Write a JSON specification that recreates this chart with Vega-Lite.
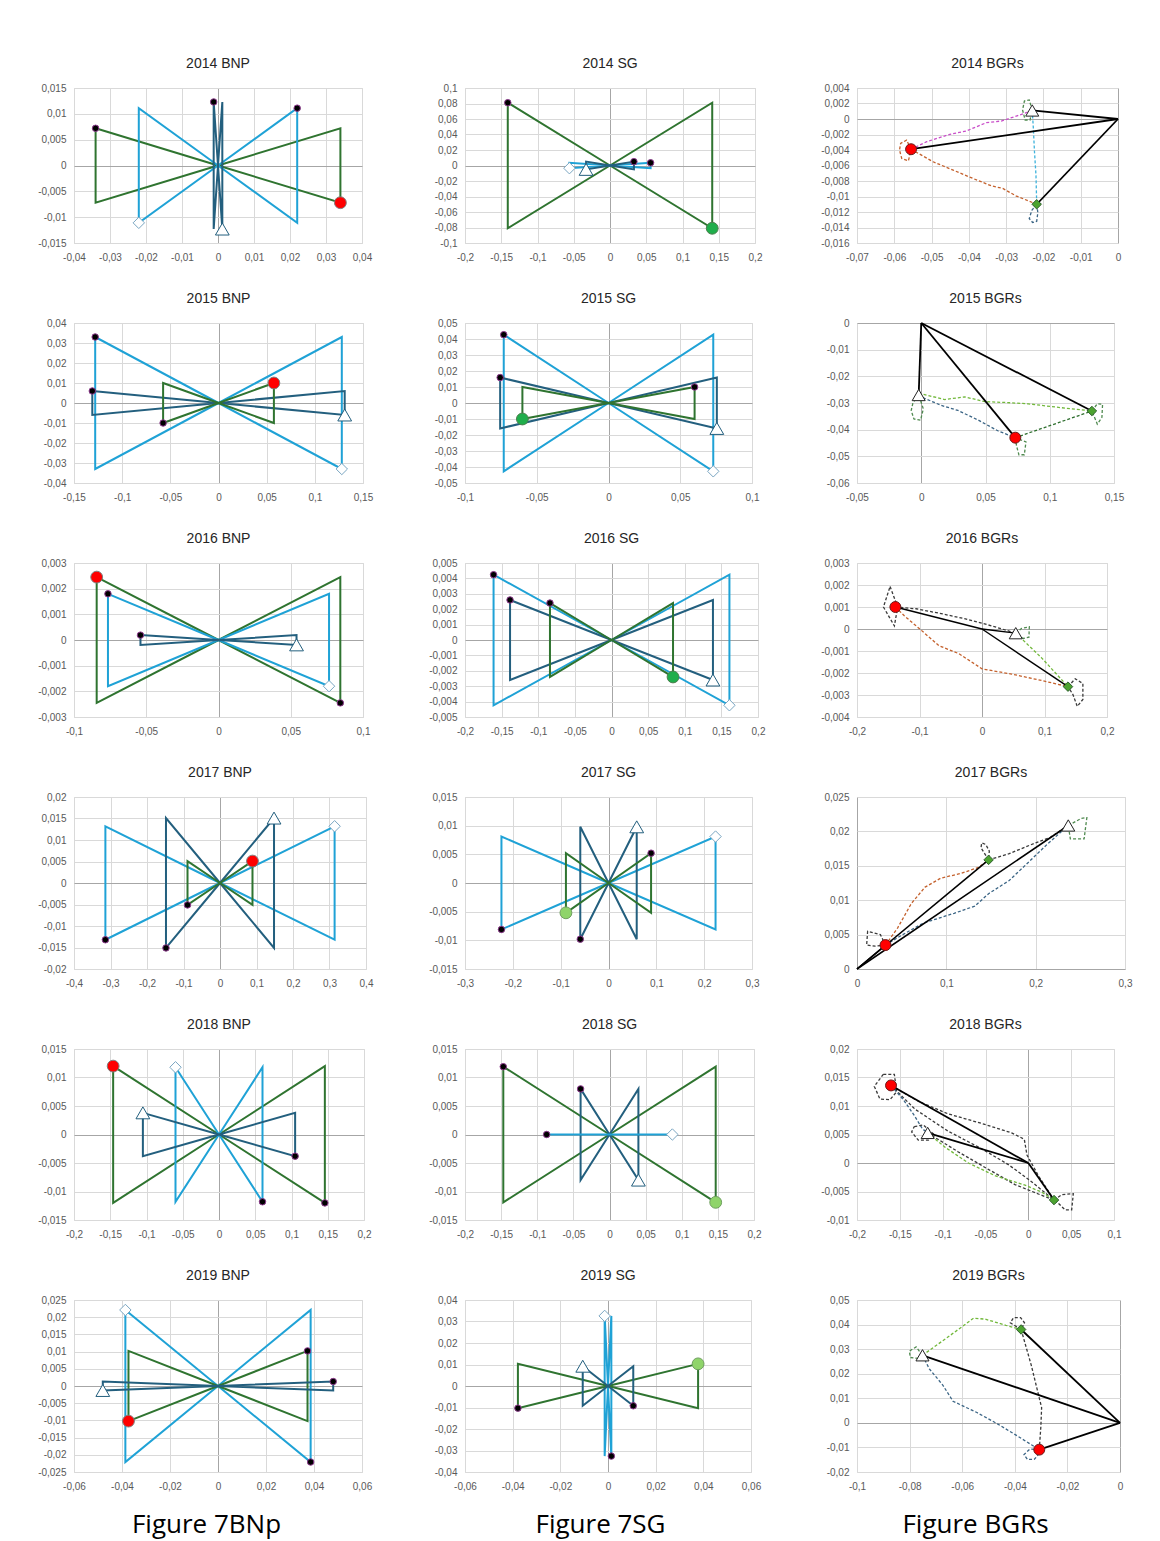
{
"$schema":"https://vega.github.io/schema/vega-lite/v6.json",
"background":"white",
"padding":{"left":37,"top":56,"right":10,"bottom":10},
"config":{
"locale":{"number":{"decimal":",","thousands":".","grouping":[3],"currency":["",""],"minus":"-"}},
"view":{"stroke":"#d9d9d9"},
"axis":{"domain":false,"ticks":false,"labelFont":"Liberation Sans","labelFontSize":10,"labelColor":"#595959","labelFlush":false,"labelOverlap":false,"labelBound":false,"format":".4~f","gridWidth":1},
"axisX":{"labelPadding":9},
"axisY":{"labelPadding":8},
"title":{"font":"Liberation Sans","fontSize":14,"fontWeight":"normal","color":"#262626","offset":12,"anchor":"middle"}
},
"datasets":{
"bow":[
{"p":"b14","c":"g","o":1,"x":-0.034,"y":0.0072},{"p":"b14","c":"g","o":2,"x":0,"y":0},{"p":"b14","c":"g","o":3,"x":0.034,"y":-0.0072},{"p":"b14","c":"g","o":4,"x":0.034,"y":0.0072},{"p":"b14","c":"g","o":5,"x":0,"y":0},{"p":"b14","c":"g","o":6,"x":-0.034,"y":-0.0072},{"p":"b14","c":"g","o":7,"x":-0.034,"y":0.0072},
{"p":"b14","c":"lb","o":1,"x":0.022,"y":0.0111},{"p":"b14","c":"lb","o":2,"x":0,"y":0},{"p":"b14","c":"lb","o":3,"x":-0.022,"y":-0.0111},{"p":"b14","c":"lb","o":4,"x":-0.022,"y":0.0111},{"p":"b14","c":"lb","o":5,"x":0,"y":0},{"p":"b14","c":"lb","o":6,"x":0.022,"y":-0.0111},{"p":"b14","c":"lb","o":7,"x":0.022,"y":0.0111},
{"p":"b14","c":"db","o":1,"x":-0.0012,"y":0.0123},{"p":"b14","c":"db","o":2,"x":0,"y":0},{"p":"b14","c":"db","o":3,"x":0.0012,"y":-0.0123},{"p":"b14","c":"db","o":4,"x":0.0012,"y":0.0123},{"p":"b14","c":"db","o":5,"x":0,"y":0},{"p":"b14","c":"db","o":6,"x":-0.0012,"y":-0.0123},{"p":"b14","c":"db","o":7,"x":-0.0012,"y":0.0123},
{"p":"s14","c":"g","o":1,"x":-0.141,"y":0.081},{"p":"s14","c":"g","o":2,"x":0,"y":0},{"p":"s14","c":"g","o":3,"x":0.141,"y":-0.081},{"p":"s14","c":"g","o":4,"x":0.141,"y":0.081},{"p":"s14","c":"g","o":5,"x":0,"y":0},{"p":"s14","c":"g","o":6,"x":-0.141,"y":-0.081},{"p":"s14","c":"g","o":7,"x":-0.141,"y":0.081},
{"p":"s14","c":"lb","o":1,"x":0.056,"y":0.0035},{"p":"s14","c":"lb","o":2,"x":0,"y":0},{"p":"s14","c":"lb","o":3,"x":-0.056,"y":-0.0035},{"p":"s14","c":"lb","o":4,"x":-0.056,"y":0.0035},{"p":"s14","c":"lb","o":5,"x":0,"y":0},{"p":"s14","c":"lb","o":6,"x":0.056,"y":-0.0035},{"p":"s14","c":"lb","o":7,"x":0.056,"y":0.0035},
{"p":"s14","c":"db","o":1,"x":0.033,"y":0.005},{"p":"s14","c":"db","o":2,"x":0,"y":0},{"p":"s14","c":"db","o":3,"x":-0.033,"y":-0.005},{"p":"s14","c":"db","o":4,"x":-0.033,"y":0.005},{"p":"s14","c":"db","o":5,"x":0,"y":0},{"p":"s14","c":"db","o":6,"x":0.033,"y":-0.005},{"p":"s14","c":"db","o":7,"x":0.033,"y":0.005},
{"p":"b15","c":"lb","o":1,"x":-0.128,"y":0.033},{"p":"b15","c":"lb","o":2,"x":0,"y":0},{"p":"b15","c":"lb","o":3,"x":0.128,"y":-0.033},{"p":"b15","c":"lb","o":4,"x":0.128,"y":0.033},{"p":"b15","c":"lb","o":5,"x":0,"y":0},{"p":"b15","c":"lb","o":6,"x":-0.128,"y":-0.033},{"p":"b15","c":"lb","o":7,"x":-0.128,"y":0.033},
{"p":"b15","c":"db","o":1,"x":-0.131,"y":0.006},{"p":"b15","c":"db","o":2,"x":0,"y":0},{"p":"b15","c":"db","o":3,"x":0.131,"y":-0.006},{"p":"b15","c":"db","o":4,"x":0.131,"y":0.006},{"p":"b15","c":"db","o":5,"x":0,"y":0},{"p":"b15","c":"db","o":6,"x":-0.131,"y":-0.006},{"p":"b15","c":"db","o":7,"x":-0.131,"y":0.006},
{"p":"b15","c":"g","o":1,"x":0.0575,"y":0.01},{"p":"b15","c":"g","o":2,"x":0,"y":0},{"p":"b15","c":"g","o":3,"x":-0.0575,"y":-0.01},{"p":"b15","c":"g","o":4,"x":-0.0575,"y":0.01},{"p":"b15","c":"g","o":5,"x":0,"y":0},{"p":"b15","c":"g","o":6,"x":0.0575,"y":-0.01},{"p":"b15","c":"g","o":7,"x":0.0575,"y":0.01},
{"p":"s15","c":"lb","o":1,"x":-0.073,"y":0.0427},{"p":"s15","c":"lb","o":2,"x":0,"y":0},{"p":"s15","c":"lb","o":3,"x":0.073,"y":-0.0427},{"p":"s15","c":"lb","o":4,"x":0.073,"y":0.0427},{"p":"s15","c":"lb","o":5,"x":0,"y":0},{"p":"s15","c":"lb","o":6,"x":-0.073,"y":-0.0427},{"p":"s15","c":"lb","o":7,"x":-0.073,"y":0.0427},
{"p":"s15","c":"db","o":1,"x":-0.0755,"y":0.0159},{"p":"s15","c":"db","o":2,"x":0,"y":0},{"p":"s15","c":"db","o":3,"x":0.0755,"y":-0.0159},{"p":"s15","c":"db","o":4,"x":0.0755,"y":0.0159},{"p":"s15","c":"db","o":5,"x":0,"y":0},{"p":"s15","c":"db","o":6,"x":-0.0755,"y":-0.0159},{"p":"s15","c":"db","o":7,"x":-0.0755,"y":0.0159},
{"p":"s15","c":"g","o":1,"x":-0.06,"y":-0.01},{"p":"s15","c":"g","o":2,"x":0,"y":0},{"p":"s15","c":"g","o":3,"x":0.06,"y":0.01},{"p":"s15","c":"g","o":4,"x":0.06,"y":-0.01},{"p":"s15","c":"g","o":5,"x":0,"y":0},{"p":"s15","c":"g","o":6,"x":-0.06,"y":0.01},{"p":"s15","c":"g","o":7,"x":-0.06,"y":-0.01},
{"p":"b16","c":"g","o":1,"x":-0.0843,"y":0.00245},{"p":"b16","c":"g","o":2,"x":0,"y":0},{"p":"b16","c":"g","o":3,"x":0.0843,"y":-0.00245},{"p":"b16","c":"g","o":4,"x":0.0843,"y":0.00245},{"p":"b16","c":"g","o":5,"x":0,"y":0},{"p":"b16","c":"g","o":6,"x":-0.0843,"y":-0.00245},{"p":"b16","c":"g","o":7,"x":-0.0843,"y":0.00245},
{"p":"b16","c":"lb","o":1,"x":-0.0765,"y":0.0018},{"p":"b16","c":"lb","o":2,"x":0,"y":0},{"p":"b16","c":"lb","o":3,"x":0.0765,"y":-0.0018},{"p":"b16","c":"lb","o":4,"x":0.0765,"y":0.0018},{"p":"b16","c":"lb","o":5,"x":0,"y":0},{"p":"b16","c":"lb","o":6,"x":-0.0765,"y":-0.0018},{"p":"b16","c":"lb","o":7,"x":-0.0765,"y":0.0018},
{"p":"b16","c":"db","o":1,"x":-0.054,"y":0.00019},{"p":"b16","c":"db","o":2,"x":0,"y":0},{"p":"b16","c":"db","o":3,"x":0.054,"y":-0.00019},{"p":"b16","c":"db","o":4,"x":0.054,"y":0.00019},{"p":"b16","c":"db","o":5,"x":0,"y":0},{"p":"b16","c":"db","o":6,"x":-0.054,"y":-0.00019},{"p":"b16","c":"db","o":7,"x":-0.054,"y":0.00019},
{"p":"s16","c":"lb","o":1,"x":-0.161,"y":0.00424},{"p":"s16","c":"lb","o":2,"x":0,"y":0},{"p":"s16","c":"lb","o":3,"x":0.161,"y":-0.00424},{"p":"s16","c":"lb","o":4,"x":0.161,"y":0.00424},{"p":"s16","c":"lb","o":5,"x":0,"y":0},{"p":"s16","c":"lb","o":6,"x":-0.161,"y":-0.00424},{"p":"s16","c":"lb","o":7,"x":-0.161,"y":0.00424},
{"p":"s16","c":"db","o":1,"x":-0.1385,"y":0.0026},{"p":"s16","c":"db","o":2,"x":0,"y":0},{"p":"s16","c":"db","o":3,"x":0.1385,"y":-0.0026},{"p":"s16","c":"db","o":4,"x":0.1385,"y":0.0026},{"p":"s16","c":"db","o":5,"x":0,"y":0},{"p":"s16","c":"db","o":6,"x":-0.1385,"y":-0.0026},{"p":"s16","c":"db","o":7,"x":-0.1385,"y":0.0026},
{"p":"s16","c":"g","o":1,"x":-0.084,"y":0.0024},{"p":"s16","c":"g","o":2,"x":0,"y":0},{"p":"s16","c":"g","o":3,"x":0.084,"y":-0.0024},{"p":"s16","c":"g","o":4,"x":0.084,"y":0.0024},{"p":"s16","c":"g","o":5,"x":0,"y":0},{"p":"s16","c":"g","o":6,"x":-0.084,"y":-0.0024},{"p":"s16","c":"g","o":7,"x":-0.084,"y":0.0024},
{"p":"b17","c":"lb","o":1,"x":-0.314,"y":-0.0132},{"p":"b17","c":"lb","o":2,"x":0,"y":0},{"p":"b17","c":"lb","o":3,"x":0.314,"y":0.0132},{"p":"b17","c":"lb","o":4,"x":0.314,"y":-0.0132},{"p":"b17","c":"lb","o":5,"x":0,"y":0},{"p":"b17","c":"lb","o":6,"x":-0.314,"y":0.0132},{"p":"b17","c":"lb","o":7,"x":-0.314,"y":-0.0132},
{"p":"b17","c":"db","o":1,"x":-0.148,"y":-0.0151},{"p":"b17","c":"db","o":2,"x":0,"y":0},{"p":"b17","c":"db","o":3,"x":0.148,"y":0.0151},{"p":"b17","c":"db","o":4,"x":0.148,"y":-0.0151},{"p":"b17","c":"db","o":5,"x":0,"y":0},{"p":"b17","c":"db","o":6,"x":-0.148,"y":0.0151},{"p":"b17","c":"db","o":7,"x":-0.148,"y":-0.0151},
{"p":"b17","c":"g","o":1,"x":0.089,"y":0.0051},{"p":"b17","c":"g","o":2,"x":0,"y":0},{"p":"b17","c":"g","o":3,"x":-0.089,"y":-0.0051},{"p":"b17","c":"g","o":4,"x":-0.089,"y":0.0051},{"p":"b17","c":"g","o":5,"x":0,"y":0},{"p":"b17","c":"g","o":6,"x":0.089,"y":-0.0051},{"p":"b17","c":"g","o":7,"x":0.089,"y":0.0051},
{"p":"s17","c":"lb","o":1,"x":-0.2238,"y":-0.0081},{"p":"s17","c":"lb","o":2,"x":0,"y":0},{"p":"s17","c":"lb","o":3,"x":0.2238,"y":0.0081},{"p":"s17","c":"lb","o":4,"x":0.2238,"y":-0.0081},{"p":"s17","c":"lb","o":5,"x":0,"y":0},{"p":"s17","c":"lb","o":6,"x":-0.2238,"y":0.0081},{"p":"s17","c":"lb","o":7,"x":-0.2238,"y":-0.0081},
{"p":"s17","c":"db","o":1,"x":-0.059,"y":-0.0098},{"p":"s17","c":"db","o":2,"x":0,"y":0},{"p":"s17","c":"db","o":3,"x":0.059,"y":0.0098},{"p":"s17","c":"db","o":4,"x":0.059,"y":-0.0098},{"p":"s17","c":"db","o":5,"x":0,"y":0},{"p":"s17","c":"db","o":6,"x":-0.059,"y":0.0098},{"p":"s17","c":"db","o":7,"x":-0.059,"y":-0.0098},
{"p":"s17","c":"g","o":1,"x":-0.089,"y":-0.0052},{"p":"s17","c":"g","o":2,"x":0,"y":0},{"p":"s17","c":"g","o":3,"x":0.089,"y":0.0052},{"p":"s17","c":"g","o":4,"x":0.089,"y":-0.0052},{"p":"s17","c":"g","o":5,"x":0,"y":0},{"p":"s17","c":"g","o":6,"x":-0.089,"y":0.0052},{"p":"s17","c":"g","o":7,"x":-0.089,"y":-0.0052},
{"p":"b18","c":"g","o":1,"x":-0.146,"y":0.012},{"p":"b18","c":"g","o":2,"x":0,"y":0},{"p":"b18","c":"g","o":3,"x":0.146,"y":-0.012},{"p":"b18","c":"g","o":4,"x":0.146,"y":0.012},{"p":"b18","c":"g","o":5,"x":0,"y":0},{"p":"b18","c":"g","o":6,"x":-0.146,"y":-0.012},{"p":"b18","c":"g","o":7,"x":-0.146,"y":0.012},
{"p":"b18","c":"lb","o":1,"x":-0.06,"y":0.0118},{"p":"b18","c":"lb","o":2,"x":0,"y":0},{"p":"b18","c":"lb","o":3,"x":0.06,"y":-0.0118},{"p":"b18","c":"lb","o":4,"x":0.06,"y":0.0118},{"p":"b18","c":"lb","o":5,"x":0,"y":0},{"p":"b18","c":"lb","o":6,"x":-0.06,"y":-0.0118},{"p":"b18","c":"lb","o":7,"x":-0.06,"y":0.0118},
{"p":"b18","c":"db","o":1,"x":-0.105,"y":0.0038},{"p":"b18","c":"db","o":2,"x":0,"y":0},{"p":"b18","c":"db","o":3,"x":0.105,"y":-0.0038},{"p":"b18","c":"db","o":4,"x":0.105,"y":0.0038},{"p":"b18","c":"db","o":5,"x":0,"y":0},{"p":"b18","c":"db","o":6,"x":-0.105,"y":-0.0038},{"p":"b18","c":"db","o":7,"x":-0.105,"y":0.0038},
{"p":"s18","c":"g","o":1,"x":-0.147,"y":0.0119},{"p":"s18","c":"g","o":2,"x":0,"y":0},{"p":"s18","c":"g","o":3,"x":0.147,"y":-0.0119},{"p":"s18","c":"g","o":4,"x":0.147,"y":0.0119},{"p":"s18","c":"g","o":5,"x":0,"y":0},{"p":"s18","c":"g","o":6,"x":-0.147,"y":-0.0119},{"p":"s18","c":"g","o":7,"x":-0.147,"y":0.0119},
{"p":"s18","c":"db","o":1,"x":-0.04,"y":0.008},{"p":"s18","c":"db","o":2,"x":0,"y":0},{"p":"s18","c":"db","o":3,"x":0.04,"y":-0.008},{"p":"s18","c":"db","o":4,"x":0.04,"y":0.008},{"p":"s18","c":"db","o":5,"x":0,"y":0},{"p":"s18","c":"db","o":6,"x":-0.04,"y":-0.008},{"p":"s18","c":"db","o":7,"x":-0.04,"y":0.008},
{"p":"s18","c":"lb","o":1,"x":-0.087,"y":0},{"p":"s18","c":"lb","o":2,"x":0,"y":0},{"p":"s18","c":"lb","o":3,"x":0.087,"y":0},{"p":"s18","c":"lb","o":4,"x":0.087,"y":0},{"p":"s18","c":"lb","o":5,"x":0,"y":0},{"p":"s18","c":"lb","o":6,"x":-0.087,"y":0},{"p":"s18","c":"lb","o":7,"x":-0.087,"y":0},
{"p":"b19","c":"lb","o":1,"x":-0.0386,"y":0.0221},{"p":"b19","c":"lb","o":2,"x":0,"y":0},{"p":"b19","c":"lb","o":3,"x":0.0386,"y":-0.0221},{"p":"b19","c":"lb","o":4,"x":0.0386,"y":0.0221},{"p":"b19","c":"lb","o":5,"x":0,"y":0},{"p":"b19","c":"lb","o":6,"x":-0.0386,"y":-0.0221},{"p":"b19","c":"lb","o":7,"x":-0.0386,"y":0.0221},
{"p":"b19","c":"g","o":1,"x":-0.0373,"y":-0.0102},{"p":"b19","c":"g","o":2,"x":0,"y":0},{"p":"b19","c":"g","o":3,"x":0.0373,"y":0.0102},{"p":"b19","c":"g","o":4,"x":0.0373,"y":-0.0102},{"p":"b19","c":"g","o":5,"x":0,"y":0},{"p":"b19","c":"g","o":6,"x":-0.0373,"y":0.0102},{"p":"b19","c":"g","o":7,"x":-0.0373,"y":-0.0102},
{"p":"b19","c":"db","o":1,"x":-0.048,"y":-0.0013},{"p":"b19","c":"db","o":2,"x":0,"y":0},{"p":"b19","c":"db","o":3,"x":0.048,"y":0.0013},{"p":"b19","c":"db","o":4,"x":0.048,"y":-0.0013},{"p":"b19","c":"db","o":5,"x":0,"y":0},{"p":"b19","c":"db","o":6,"x":-0.048,"y":0.0013},{"p":"b19","c":"db","o":7,"x":-0.048,"y":-0.0013},
{"p":"s19","c":"lb","o":1,"x":-0.0014,"y":0.0326},{"p":"s19","c":"lb","o":2,"x":0,"y":0},{"p":"s19","c":"lb","o":3,"x":0.0014,"y":-0.0326},{"p":"s19","c":"lb","o":4,"x":0.0014,"y":0.0326},{"p":"s19","c":"lb","o":5,"x":0,"y":0},{"p":"s19","c":"lb","o":6,"x":-0.0014,"y":-0.0326},{"p":"s19","c":"lb","o":7,"x":-0.0014,"y":0.0326},
{"p":"s19","c":"g","o":1,"x":0.0378,"y":0.0103},{"p":"s19","c":"g","o":2,"x":0,"y":0},{"p":"s19","c":"g","o":3,"x":-0.0378,"y":-0.0103},{"p":"s19","c":"g","o":4,"x":-0.0378,"y":0.0103},{"p":"s19","c":"g","o":5,"x":0,"y":0},{"p":"s19","c":"g","o":6,"x":0.0378,"y":-0.0103},{"p":"s19","c":"g","o":7,"x":0.0378,"y":0.0103},
{"p":"s19","c":"db","o":1,"x":-0.0106,"y":0.0092},{"p":"s19","c":"db","o":2,"x":0,"y":0},{"p":"s19","c":"db","o":3,"x":0.0106,"y":-0.0092},{"p":"s19","c":"db","o":4,"x":0.0106,"y":0.0092},{"p":"s19","c":"db","o":5,"x":0,"y":0},{"p":"s19","c":"db","o":6,"x":-0.0106,"y":-0.0092},{"p":"s19","c":"db","o":7,"x":-0.0106,"y":0.0092}
],
"mk":[
{"p":"b14","m":"dot","x":-0.034,"y":0.0072},{"p":"b14","m":"red","x":0.034,"y":-0.0072},{"p":"b14","m":"dot","x":0.022,"y":0.0111},{"p":"b14","m":"dia","x":-0.022,"y":-0.0111},{"p":"b14","m":"dot","x":-0.0012,"y":0.0123},{"p":"b14","m":"tri","x":0.0012,"y":-0.0123},
{"p":"s14","m":"dot","x":-0.141,"y":0.081},{"p":"s14","m":"grn","x":0.141,"y":-0.081},{"p":"s14","m":"dot","x":0.056,"y":0.0035},{"p":"s14","m":"dia","x":-0.056,"y":-0.0035},{"p":"s14","m":"dot","x":0.033,"y":0.005},{"p":"s14","m":"tri","x":-0.033,"y":-0.005},
{"p":"b15","m":"dot","x":-0.128,"y":0.033},{"p":"b15","m":"dia","x":0.128,"y":-0.033},{"p":"b15","m":"dot","x":-0.131,"y":0.006},{"p":"b15","m":"tri","x":0.131,"y":-0.006},{"p":"b15","m":"red","x":0.0575,"y":0.01},{"p":"b15","m":"dot","x":-0.0575,"y":-0.01},
{"p":"s15","m":"dot","x":-0.073,"y":0.0427},{"p":"s15","m":"dia","x":0.073,"y":-0.0427},{"p":"s15","m":"dot","x":-0.0755,"y":0.0159},{"p":"s15","m":"tri","x":0.0755,"y":-0.0159},{"p":"s15","m":"grn","x":-0.06,"y":-0.01},{"p":"s15","m":"dot","x":0.06,"y":0.01},
{"p":"b16","m":"red","x":-0.0843,"y":0.00245},{"p":"b16","m":"dot","x":0.0843,"y":-0.00245},{"p":"b16","m":"dot","x":-0.0765,"y":0.0018},{"p":"b16","m":"dia","x":0.0765,"y":-0.0018},{"p":"b16","m":"dot","x":-0.054,"y":0.00019},{"p":"b16","m":"tri","x":0.054,"y":-0.00019},
{"p":"s16","m":"dot","x":-0.161,"y":0.00424},{"p":"s16","m":"dia","x":0.161,"y":-0.00424},{"p":"s16","m":"dot","x":-0.1385,"y":0.0026},{"p":"s16","m":"tri","x":0.1385,"y":-0.0026},{"p":"s16","m":"dot","x":-0.084,"y":0.0024},{"p":"s16","m":"grn","x":0.084,"y":-0.0024},
{"p":"b17","m":"dot","x":-0.314,"y":-0.0132},{"p":"b17","m":"dia","x":0.314,"y":0.0132},{"p":"b17","m":"dot","x":-0.148,"y":-0.0151},{"p":"b17","m":"tri","x":0.148,"y":0.0151},{"p":"b17","m":"red","x":0.089,"y":0.0051},{"p":"b17","m":"dot","x":-0.089,"y":-0.0051},
{"p":"s17","m":"dot","x":-0.2238,"y":-0.0081},{"p":"s17","m":"dia","x":0.2238,"y":0.0081},{"p":"s17","m":"dot","x":-0.059,"y":-0.0098},{"p":"s17","m":"tri","x":0.059,"y":0.0098},{"p":"s17","m":"lgr","x":-0.089,"y":-0.0052},{"p":"s17","m":"dot","x":0.089,"y":0.0052},
{"p":"b18","m":"red","x":-0.146,"y":0.012},{"p":"b18","m":"dot","x":0.146,"y":-0.012},{"p":"b18","m":"dia","x":-0.06,"y":0.0118},{"p":"b18","m":"dot","x":0.06,"y":-0.0118},{"p":"b18","m":"tri","x":-0.105,"y":0.0038},{"p":"b18","m":"dot","x":0.105,"y":-0.0038},
{"p":"s18","m":"dot","x":-0.147,"y":0.0119},{"p":"s18","m":"lgr","x":0.147,"y":-0.0119},{"p":"s18","m":"dot","x":-0.04,"y":0.008},{"p":"s18","m":"tri","x":0.04,"y":-0.008},{"p":"s18","m":"dot","x":-0.087,"y":0},{"p":"s18","m":"dia","x":0.087,"y":0},
{"p":"b19","m":"dia","x":-0.0386,"y":0.0221},{"p":"b19","m":"dot","x":0.0386,"y":-0.0221},{"p":"b19","m":"red","x":-0.0373,"y":-0.0102},{"p":"b19","m":"dot","x":0.0373,"y":0.0102},{"p":"b19","m":"tri","x":-0.048,"y":-0.0013},{"p":"b19","m":"dot","x":0.048,"y":0.0013},
{"p":"s19","m":"dia","x":-0.0014,"y":0.0326},{"p":"s19","m":"dot","x":0.0014,"y":-0.0326},{"p":"s19","m":"lgr","x":0.0378,"y":0.0103},{"p":"s19","m":"dot","x":-0.0378,"y":-0.0103},{"p":"s19","m":"tri","x":-0.0106,"y":0.0092},{"p":"s19","m":"dot","x":0.0106,"y":-0.0092},
{"p":"g14","m":"bred","x":-0.0555,"y":-0.0039},{"p":"g14","m":"btri","x":-0.023,"y":0.0011},{"p":"g14","m":"bdia","x":-0.0218,"y":-0.011},
{"p":"g15","m":"bred","x":0.0732,"y":-0.043},{"p":"g15","m":"btri","x":-0.002,"y":-0.027},{"p":"g15","m":"bdia","x":0.1328,"y":-0.033},
{"p":"g16","m":"bred","x":-0.1386,"y":0.001},{"p":"g16","m":"btri","x":0.054,"y":-0.00019},{"p":"g16","m":"bdia","x":0.1376,"y":-0.00262},
{"p":"g17","m":"bred","x":0.0319,"y":0.00348},{"p":"g17","m":"bdia","x":0.1473,"y":0.01586},{"p":"g17","m":"btri","x":0.2365,"y":0.02086},
{"p":"g18","m":"bred","x":-0.1603,"y":0.01361},{"p":"g18","m":"btri","x":-0.1175,"y":0.00528},{"p":"g18","m":"bdia","x":0.03,"y":-0.0065},
{"p":"g19","m":"btri","x":-0.0751,"y":0.0275},{"p":"g19","m":"bdia","x":-0.0376,"y":0.038},{"p":"g19","m":"bred","x":-0.0307,"y":-0.0109}
],
"bg":[
{"p":"g14","k":1,"c":"so","o":1,"x":0,"y":0},{"p":"g14","k":1,"c":"so","o":2,"x":-0.023,"y":0.0011},
{"p":"g14","k":2,"c":"so","o":1,"x":0,"y":0},{"p":"g14","k":2,"c":"so","o":2,"x":-0.0555,"y":-0.0039},
{"p":"g14","k":3,"c":"so","o":1,"x":0,"y":0},{"p":"g14","k":3,"c":"so","o":2,"x":-0.0218,"y":-0.011},
{"p":"g14","k":4,"c":"mg","o":1,"x":-0.0555,"y":-0.0039},{"p":"g14","k":4,"c":"mg","o":2,"x":-0.0513,"y":-0.00293},{"p":"g14","k":4,"c":"mg","o":3,"x":-0.0451,"y":-0.00198},{"p":"g14","k":4,"c":"mg","o":4,"x":-0.0407,"y":-0.00155},{"p":"g14","k":4,"c":"mg","o":5,"x":-0.0353,"y":-0.00047},{"p":"g14","k":4,"c":"mg","o":6,"x":-0.0313,"y":-0.00026},{"p":"g14","k":4,"c":"mg","o":7,"x":-0.0269,"y":0.00043},{"p":"g14","k":4,"c":"mg","o":8,"x":-0.0238,"y":0.00095},{"p":"g14","k":4,"c":"mg","o":9,"x":-0.023,"y":0.0011},
{"p":"g14","k":5,"c":"or","o":1,"x":-0.0555,"y":-0.0039},{"p":"g14","k":5,"c":"or","o":2,"x":-0.0496,"y":-0.00552},{"p":"g14","k":5,"c":"or","o":3,"x":-0.0442,"y":-0.0066},{"p":"g14","k":5,"c":"or","o":4,"x":-0.0389,"y":-0.00767},{"p":"g14","k":5,"c":"or","o":5,"x":-0.034,"y":-0.00862},{"p":"g14","k":5,"c":"or","o":6,"x":-0.0309,"y":-0.00896},{"p":"g14","k":5,"c":"or","o":7,"x":-0.0274,"y":-0.00991},{"p":"g14","k":5,"c":"or","o":8,"x":-0.0218,"y":-0.011},
{"p":"g14","k":6,"c":"cy","o":1,"x":-0.023,"y":0.0011},{"p":"g14","k":6,"c":"cy","o":2,"x":-0.0227,"y":-0.00121},{"p":"g14","k":6,"c":"cy","o":3,"x":-0.0224,"y":-0.00422},{"p":"g14","k":6,"c":"cy","o":4,"x":-0.022,"y":-0.00724},{"p":"g14","k":6,"c":"cy","o":5,"x":-0.0218,"y":-0.011},
{"p":"g14","k":7,"c":"or","o":1,"x":-0.0555,"y":-0.0039},{"p":"g14","k":7,"c":"or","o":2,"x":-0.0567,"y":-0.00272},{"p":"g14","k":7,"c":"or","o":3,"x":-0.0583,"y":-0.00315},{"p":"g14","k":7,"c":"or","o":4,"x":-0.0586,"y":-0.00401},{"p":"g14","k":7,"c":"or","o":5,"x":-0.058,"y":-0.00509},{"p":"g14","k":7,"c":"or","o":6,"x":-0.0562,"y":-0.00539},{"p":"g14","k":7,"c":"or","o":7,"x":-0.0555,"y":-0.0039},
{"p":"g14","k":8,"c":"gn","o":1,"x":-0.023,"y":0.0011},{"p":"g14","k":8,"c":"gn","o":2,"x":-0.0238,"y":0.00246},{"p":"g14","k":8,"c":"gn","o":3,"x":-0.0251,"y":0.00233},{"p":"g14","k":8,"c":"gn","o":4,"x":-0.0256,"y":0.00116},{"p":"g14","k":8,"c":"gn","o":5,"x":-0.0249,"y":-0.00013},{"p":"g14","k":8,"c":"gn","o":6,"x":-0.0236,"y":-0.00013},{"p":"g14","k":8,"c":"gn","o":7,"x":-0.023,"y":0.0011},
{"p":"g14","k":9,"c":"bl","o":1,"x":-0.0218,"y":-0.011},{"p":"g14","k":9,"c":"bl","o":2,"x":-0.0231,"y":-0.01177},{"p":"g14","k":9,"c":"bl","o":3,"x":-0.0238,"y":-0.01284},{"p":"g14","k":9,"c":"bl","o":4,"x":-0.0229,"y":-0.01336},{"p":"g14","k":9,"c":"bl","o":5,"x":-0.0218,"y":-0.01319},{"p":"g14","k":9,"c":"bl","o":6,"x":-0.0215,"y":-0.01207},{"p":"g14","k":9,"c":"bl","o":7,"x":-0.0218,"y":-0.011},
{"p":"g15","k":1,"c":"so","o":1,"x":0,"y":0},{"p":"g15","k":1,"c":"so","o":2,"x":-0.002,"y":-0.027},
{"p":"g15","k":2,"c":"so","o":1,"x":0,"y":0},{"p":"g15","k":2,"c":"so","o":2,"x":0.0732,"y":-0.043},
{"p":"g15","k":3,"c":"so","o":1,"x":0,"y":0},{"p":"g15","k":3,"c":"so","o":2,"x":0.1328,"y":-0.033},
{"p":"g15","k":4,"c":"lg","o":1,"x":-0.002,"y":-0.027},{"p":"g15","k":4,"c":"lg","o":2,"x":0.0013,"y":-0.0267},{"p":"g15","k":4,"c":"lg","o":3,"x":0.0182,"y":-0.0287},{"p":"g15","k":4,"c":"lg","o":4,"x":0.0339,"y":-0.0277},{"p":"g15","k":4,"c":"lg","o":5,"x":0.0495,"y":-0.0295},{"p":"g15","k":4,"c":"lg","o":6,"x":0.0651,"y":-0.0298},{"p":"g15","k":4,"c":"lg","o":7,"x":0.0833,"y":-0.0303},{"p":"g15","k":4,"c":"lg","o":8,"x":0.1042,"y":-0.0315},{"p":"g15","k":4,"c":"lg","o":9,"x":0.1328,"y":-0.033},
{"p":"g15","k":5,"c":"bl","o":1,"x":-0.002,"y":-0.027},{"p":"g15","k":5,"c":"bl","o":2,"x":0.0013,"y":-0.028},{"p":"g15","k":5,"c":"bl","o":3,"x":0.0156,"y":-0.0309},{"p":"g15","k":5,"c":"bl","o":4,"x":0.0286,"y":-0.0328},{"p":"g15","k":5,"c":"bl","o":5,"x":0.0443,"y":-0.0364},{"p":"g15","k":5,"c":"bl","o":6,"x":0.0599,"y":-0.0405},{"p":"g15","k":5,"c":"bl","o":7,"x":0.0732,"y":-0.043},
{"p":"g15","k":6,"c":"dg","o":1,"x":0.0732,"y":-0.043},{"p":"g15","k":6,"c":"dg","o":2,"x":0.1328,"y":-0.033},
{"p":"g15","k":7,"c":"gn","o":1,"x":-0.002,"y":-0.027},{"p":"g15","k":7,"c":"gn","o":2,"x":-0.0065,"y":-0.03},{"p":"g15","k":7,"c":"gn","o":3,"x":-0.0078,"y":-0.0328},{"p":"g15","k":7,"c":"gn","o":4,"x":-0.0057,"y":-0.036},{"p":"g15","k":7,"c":"gn","o":5,"x":-0.0005,"y":-0.0364},{"p":"g15","k":7,"c":"gn","o":6,"x":0.0016,"y":-0.0322},{"p":"g15","k":7,"c":"gn","o":7,"x":-0.002,"y":-0.027},
{"p":"g15","k":8,"c":"gn","o":1,"x":0.0732,"y":-0.043},{"p":"g15","k":8,"c":"gn","o":2,"x":0.0742,"y":-0.0462},{"p":"g15","k":8,"c":"gn","o":3,"x":0.076,"y":-0.0494},{"p":"g15","k":8,"c":"gn","o":4,"x":0.0802,"y":-0.0494},{"p":"g15","k":8,"c":"gn","o":5,"x":0.0815,"y":-0.0446},{"p":"g15","k":8,"c":"gn","o":6,"x":0.0732,"y":-0.043},
{"p":"g15","k":9,"c":"gn","o":1,"x":0.1328,"y":-0.033},{"p":"g15","k":9,"c":"gn","o":2,"x":0.137,"y":-0.0303},{"p":"g15","k":9,"c":"gn","o":3,"x":0.1411,"y":-0.0305},{"p":"g15","k":9,"c":"gn","o":4,"x":0.1406,"y":-0.0354},{"p":"g15","k":9,"c":"gn","o":5,"x":0.137,"y":-0.0379},{"p":"g15","k":9,"c":"gn","o":6,"x":0.1349,"y":-0.0354},{"p":"g15","k":9,"c":"gn","o":7,"x":0.1328,"y":-0.033},
{"p":"g16","k":1,"c":"so","o":1,"x":0,"y":0},{"p":"g16","k":1,"c":"so","o":2,"x":-0.1386,"y":0.001},
{"p":"g16","k":2,"c":"so","o":1,"x":0,"y":0},{"p":"g16","k":2,"c":"so","o":2,"x":0.054,"y":-0.00019},
{"p":"g16","k":3,"c":"so","o":1,"x":0,"y":0},{"p":"g16","k":3,"c":"so","o":2,"x":0.1376,"y":-0.00262},
{"p":"g16","k":4,"c":"bk","o":1,"x":-0.1386,"y":0.001},{"p":"g16","k":4,"c":"bk","o":2,"x":-0.1058,"y":0.00092},{"p":"g16","k":4,"c":"bk","o":3,"x":-0.0688,"y":0.00072},{"p":"g16","k":4,"c":"bk","o":4,"x":-0.0265,"y":0.00046},{"p":"g16","k":4,"c":"bk","o":5,"x":0.0159,"y":0.00014},{"p":"g16","k":4,"c":"bk","o":6,"x":0.054,"y":-0.00019},
{"p":"g16","k":5,"c":"or","o":1,"x":-0.1386,"y":0.001},{"p":"g16","k":5,"c":"or","o":2,"x":-0.1243,"y":0.0006},{"p":"g16","k":5,"c":"or","o":3,"x":-0.0979,"y":-0.00004},{"p":"g16","k":5,"c":"or","o":4,"x":-0.0688,"y":-0.00076},{"p":"g16","k":5,"c":"or","o":5,"x":-0.037,"y":-0.00112},{"p":"g16","k":5,"c":"or","o":6,"x":0,"y":-0.00181},{"p":"g16","k":5,"c":"or","o":7,"x":0.0476,"y":-0.00205},{"p":"g16","k":5,"c":"or","o":8,"x":0.0952,"y":-0.00234},{"p":"g16","k":5,"c":"or","o":9,"x":0.1376,"y":-0.00262},
{"p":"g16","k":6,"c":"lg","o":1,"x":0.054,"y":-0.00019},{"p":"g16","k":6,"c":"lg","o":2,"x":0.095,"y":-0.0013},{"p":"g16","k":6,"c":"lg","o":3,"x":0.1376,"y":-0.00262},
{"p":"g16","k":7,"c":"bk","o":1,"x":-0.1471,"y":0.00193},{"p":"g16","k":7,"c":"bk","o":2,"x":-0.1349,"y":0.001},{"p":"g16","k":7,"c":"bk","o":3,"x":-0.1402,"y":0.00014},{"p":"g16","k":7,"c":"bk","o":4,"x":-0.1577,"y":0.001},{"p":"g16","k":7,"c":"bk","o":5,"x":-0.1471,"y":0.00193},
{"p":"g16","k":8,"c":"gn","o":1,"x":0.054,"y":-0.00019},{"p":"g16","k":8,"c":"gn","o":2,"x":0.0635,"y":0.00003},{"p":"g16","k":8,"c":"gn","o":3,"x":0.0757,"y":0.0001},{"p":"g16","k":8,"c":"gn","o":4,"x":0.0751,"y":-0.00037},{"p":"g16","k":8,"c":"gn","o":5,"x":0.0661,"y":-0.00043},{"p":"g16","k":8,"c":"gn","o":6,"x":0.054,"y":-0.00019},
{"p":"g16","k":9,"c":"bk","o":1,"x":0.1376,"y":-0.00262},{"p":"g16","k":9,"c":"bk","o":2,"x":0.1492,"y":-0.00226},{"p":"g16","k":9,"c":"bk","o":3,"x":0.1614,"y":-0.00248},{"p":"g16","k":9,"c":"bk","o":4,"x":0.1614,"y":-0.0032},{"p":"g16","k":9,"c":"bk","o":5,"x":0.1524,"y":-0.00352},{"p":"g16","k":9,"c":"bk","o":6,"x":0.1455,"y":-0.00298},{"p":"g16","k":9,"c":"bk","o":7,"x":0.1376,"y":-0.00262},
{"p":"g17","k":1,"c":"so","o":1,"x":0,"y":0},{"p":"g17","k":1,"c":"so","o":2,"x":0.0319,"y":0.00348},
{"p":"g17","k":2,"c":"so","o":1,"x":0,"y":0},{"p":"g17","k":2,"c":"so","o":2,"x":0.1473,"y":0.01586},
{"p":"g17","k":3,"c":"so","o":1,"x":0,"y":0},{"p":"g17","k":3,"c":"so","o":2,"x":0.2365,"y":0.02086},
{"p":"g17","k":4,"c":"or","o":1,"x":0.0319,"y":0.00348},{"p":"g17","k":4,"c":"or","o":2,"x":0.0454,"y":0.00595},{"p":"g17","k":4,"c":"or","o":3,"x":0.0608,"y":0.00952},{"p":"g17","k":4,"c":"or","o":4,"x":0.0762,"y":0.0119},{"p":"g17","k":4,"c":"or","o":5,"x":0.0935,"y":0.01319},{"p":"g17","k":4,"c":"or","o":6,"x":0.1165,"y":0.0139},{"p":"g17","k":4,"c":"or","o":7,"x":0.1358,"y":0.01476},{"p":"g17","k":4,"c":"or","o":8,"x":0.1473,"y":0.01586},
{"p":"g17","k":5,"c":"bk","o":1,"x":0.1473,"y":0.01586},{"p":"g17","k":5,"c":"bk","o":2,"x":0.1704,"y":0.01676},{"p":"g17","k":5,"c":"bk","o":3,"x":0.1935,"y":0.018},{"p":"g17","k":5,"c":"bk","o":4,"x":0.2165,"y":0.01914},{"p":"g17","k":5,"c":"bk","o":5,"x":0.2365,"y":0.02086},
{"p":"g17","k":6,"c":"bl","o":1,"x":0.0319,"y":0.00348},{"p":"g17","k":6,"c":"bl","o":2,"x":0.0512,"y":0.005},{"p":"g17","k":6,"c":"bl","o":3,"x":0.0742,"y":0.00667},{"p":"g17","k":6,"c":"bl","o":4,"x":0.1088,"y":0.0081},{"p":"g17","k":6,"c":"bl","o":5,"x":0.1319,"y":0.00914},{"p":"g17","k":6,"c":"bl","o":6,"x":0.1473,"y":0.01095},{"p":"g17","k":6,"c":"bl","o":7,"x":0.1704,"y":0.01286},{"p":"g17","k":6,"c":"bl","o":8,"x":0.1935,"y":0.01571},{"p":"g17","k":6,"c":"bl","o":9,"x":0.2127,"y":0.0181},{"p":"g17","k":6,"c":"bl","o":10,"x":0.2365,"y":0.02086},
{"p":"g17","k":7,"c":"bk","o":1,"x":0.0319,"y":0.00348},{"p":"g17","k":7,"c":"bk","o":2,"x":0.0204,"y":0.00333},{"p":"g17","k":7,"c":"bk","o":3,"x":0.0108,"y":0.00348},{"p":"g17","k":7,"c":"bk","o":4,"x":0.0119,"y":0.00548},{"p":"g17","k":7,"c":"bk","o":5,"x":0.0262,"y":0.005},{"p":"g17","k":7,"c":"bk","o":6,"x":0.0319,"y":0.00348},
{"p":"g17","k":8,"c":"bk","o":1,"x":0.1473,"y":0.01586},{"p":"g17","k":8,"c":"bk","o":2,"x":0.1388,"y":0.01762},{"p":"g17","k":8,"c":"bk","o":3,"x":0.1396,"y":0.01833},{"p":"g17","k":8,"c":"bk","o":4,"x":0.1442,"y":0.0181},{"p":"g17","k":8,"c":"bk","o":5,"x":0.1481,"y":0.01714},{"p":"g17","k":8,"c":"bk","o":6,"x":0.1473,"y":0.01586},
{"p":"g17","k":9,"c":"gn","o":1,"x":0.2365,"y":0.02086},{"p":"g17","k":9,"c":"gn","o":2,"x":0.2512,"y":0.0219},{"p":"g17","k":9,"c":"gn","o":3,"x":0.2573,"y":0.022},{"p":"g17","k":9,"c":"gn","o":4,"x":0.2542,"y":0.0189},{"p":"g17","k":9,"c":"gn","o":5,"x":0.2388,"y":0.0189},{"p":"g17","k":9,"c":"gn","o":6,"x":0.2365,"y":0.02086},
{"p":"g18","k":1,"c":"so","o":1,"x":0,"y":0},{"p":"g18","k":1,"c":"so","o":2,"x":-0.1603,"y":0.01361},
{"p":"g18","k":2,"c":"so","o":1,"x":0,"y":0},{"p":"g18","k":2,"c":"so","o":2,"x":-0.1175,"y":0.00528},
{"p":"g18","k":3,"c":"so","o":1,"x":0,"y":0},{"p":"g18","k":3,"c":"so","o":2,"x":0.03,"y":-0.0065},
{"p":"g18","k":4,"c":"bk","o":1,"x":-0.1603,"y":0.01361},{"p":"g18","k":4,"c":"bk","o":2,"x":-0.1284,"y":0.01083},{"p":"g18","k":4,"c":"bk","o":3,"x":-0.0934,"y":0.00861},{"p":"g18","k":4,"c":"bk","o":4,"x":-0.0545,"y":0.00694},{"p":"g18","k":4,"c":"bk","o":5,"x":-0.0195,"y":0.00528},{"p":"g18","k":4,"c":"bk","o":6,"x":-0.0047,"y":0.00417},{"p":"g18","k":4,"c":"bk","o":7,"x":-0.0016,"y":0.00139},{"p":"g18","k":4,"c":"bk","o":8,"x":0.0117,"y":-0.00222},{"p":"g18","k":4,"c":"bk","o":9,"x":0.03,"y":-0.0065},
{"p":"g18","k":5,"c":"bk","o":1,"x":-0.1603,"y":0.01361},{"p":"g18","k":5,"c":"bk","o":2,"x":-0.1323,"y":0.00944},{"p":"g18","k":5,"c":"bk","o":3,"x":-0.0934,"y":0.00556},{"p":"g18","k":5,"c":"bk","o":4,"x":-0.0545,"y":0.0025},{"p":"g18","k":5,"c":"bk","o":5,"x":-0.0233,"y":-0.00028},{"p":"g18","k":5,"c":"bk","o":6,"x":0.0019,"y":-0.00306},{"p":"g18","k":5,"c":"bk","o":7,"x":0.03,"y":-0.0065},
{"p":"g18","k":6,"c":"bk","o":1,"x":-0.1175,"y":0.00528},{"p":"g18","k":6,"c":"bk","o":2,"x":-0.0817,"y":0.00194},{"p":"g18","k":6,"c":"bk","o":3,"x":-0.0467,"y":-0.00111},{"p":"g18","k":6,"c":"bk","o":4,"x":-0.0156,"y":-0.00378},{"p":"g18","k":6,"c":"bk","o":5,"x":0.0117,"y":-0.00544},{"p":"g18","k":6,"c":"bk","o":6,"x":0.03,"y":-0.0065},
{"p":"g18","k":7,"c":"bl","o":1,"x":-0.1603,"y":0.01361},{"p":"g18","k":7,"c":"bl","o":2,"x":-0.1459,"y":0.01111},{"p":"g18","k":7,"c":"bl","o":3,"x":-0.1331,"y":0.00833},{"p":"g18","k":7,"c":"bl","o":4,"x":-0.1237,"y":0.006},{"p":"g18","k":7,"c":"bl","o":5,"x":-0.1175,"y":0.00528},
{"p":"g18","k":8,"c":"lg","o":1,"x":-0.1175,"y":0.00528},{"p":"g18","k":8,"c":"lg","o":2,"x":-0.0973,"y":0.00278},{"p":"g18","k":8,"c":"lg","o":3,"x":-0.07,"y":0},{"p":"g18","k":8,"c":"lg","o":4,"x":-0.0389,"y":-0.00222},{"p":"g18","k":8,"c":"lg","o":5,"x":-0.0039,"y":-0.00389},{"p":"g18","k":8,"c":"lg","o":6,"x":0.0156,"y":-0.00511},{"p":"g18","k":8,"c":"lg","o":7,"x":0.03,"y":-0.0065},
{"p":"g18","k":9,"c":"bk","o":1,"x":-0.1693,"y":0.01556},{"p":"g18","k":9,"c":"bk","o":2,"x":-0.1564,"y":0.01556},{"p":"g18","k":9,"c":"bk","o":3,"x":-0.1537,"y":0.0125},{"p":"g18","k":9,"c":"bk","o":4,"x":-0.1615,"y":0.01111},{"p":"g18","k":9,"c":"bk","o":5,"x":-0.1732,"y":0.01122},{"p":"g18","k":9,"c":"bk","o":6,"x":-0.1798,"y":0.01344},{"p":"g18","k":9,"c":"bk","o":7,"x":-0.1693,"y":0.01556},
{"p":"g18","k":10,"c":"bk","o":1,"x":-0.1331,"y":0.00639},{"p":"g18","k":10,"c":"bk","o":2,"x":-0.1226,"y":0.00667},{"p":"g18","k":10,"c":"bk","o":3,"x":-0.1109,"y":0.00511},{"p":"g18","k":10,"c":"bk","o":4,"x":-0.1167,"y":0.004},{"p":"g18","k":10,"c":"bk","o":5,"x":-0.1284,"y":0.004},{"p":"g18","k":10,"c":"bk","o":6,"x":-0.1362,"y":0.00544},{"p":"g18","k":10,"c":"bk","o":7,"x":-0.1331,"y":0.00639},
{"p":"g18","k":11,"c":"bk","o":1,"x":0.03,"y":-0.0065},{"p":"g18","k":11,"c":"bk","o":2,"x":0.0389,"y":-0.00556},{"p":"g18","k":11,"c":"bk","o":3,"x":0.0525,"y":-0.00539},{"p":"g18","k":11,"c":"bk","o":4,"x":0.0506,"y":-0.00822},{"p":"g18","k":11,"c":"bk","o":5,"x":0.0428,"y":-0.00822},{"p":"g18","k":11,"c":"bk","o":6,"x":0.0342,"y":-0.00694},{"p":"g18","k":11,"c":"bk","o":7,"x":0.03,"y":-0.0065},
{"p":"g19","k":1,"c":"so","o":1,"x":0,"y":0},{"p":"g19","k":1,"c":"so","o":2,"x":-0.0751,"y":0.0275},
{"p":"g19","k":2,"c":"so","o":1,"x":0,"y":0},{"p":"g19","k":2,"c":"so","o":2,"x":-0.0376,"y":0.038},
{"p":"g19","k":3,"c":"so","o":1,"x":0,"y":0},{"p":"g19","k":3,"c":"so","o":2,"x":-0.0307,"y":-0.0109},
{"p":"g19","k":4,"c":"lg","o":1,"x":-0.0751,"y":0.0275},{"p":"g19","k":4,"c":"lg","o":2,"x":-0.0648,"y":0.0354},{"p":"g19","k":4,"c":"lg","o":3,"x":-0.0557,"y":0.0426},{"p":"g19","k":4,"c":"lg","o":4,"x":-0.0512,"y":0.0422},{"p":"g19","k":4,"c":"lg","o":5,"x":-0.0434,"y":0.0397},{"p":"g19","k":4,"c":"lg","o":6,"x":-0.0376,"y":0.038},
{"p":"g19","k":5,"c":"bk","o":1,"x":-0.0376,"y":0.038},{"p":"g19","k":5,"c":"bk","o":2,"x":-0.0337,"y":0.0233},{"p":"g19","k":5,"c":"bk","o":3,"x":-0.0298,"y":0.0062},{"p":"g19","k":5,"c":"bk","o":4,"x":-0.0301,"y":-0.0017},{"p":"g19","k":5,"c":"bk","o":5,"x":-0.0307,"y":-0.0109},
{"p":"g19","k":6,"c":"bl","o":1,"x":-0.0751,"y":0.0275},{"p":"g19","k":6,"c":"bl","o":2,"x":-0.0725,"y":0.022},{"p":"g19","k":6,"c":"bl","o":3,"x":-0.0674,"y":0.0154},{"p":"g19","k":6,"c":"bl","o":4,"x":-0.0635,"y":0.0088},{"p":"g19","k":6,"c":"bl","o":5,"x":-0.0544,"y":0.0042},{"p":"g19","k":6,"c":"bl","o":6,"x":-0.0466,"y":-0.0004},{"p":"g19","k":6,"c":"bl","o":7,"x":-0.0389,"y":-0.0054},{"p":"g19","k":6,"c":"bl","o":8,"x":-0.0337,"y":-0.0089},{"p":"g19","k":6,"c":"bl","o":9,"x":-0.0307,"y":-0.0109},
{"p":"g19","k":7,"c":"gn","o":1,"x":-0.0751,"y":0.0275},{"p":"g19","k":7,"c":"gn","o":2,"x":-0.0775,"y":0.0309},{"p":"g19","k":7,"c":"gn","o":3,"x":-0.0801,"y":0.0292},{"p":"g19","k":7,"c":"gn","o":4,"x":-0.0797,"y":0.0266},{"p":"g19","k":7,"c":"gn","o":5,"x":-0.0764,"y":0.0262},{"p":"g19","k":7,"c":"gn","o":6,"x":-0.0751,"y":0.0275},
{"p":"g19","k":8,"c":"bk","o":1,"x":-0.0376,"y":0.038},{"p":"g19","k":8,"c":"bk","o":2,"x":-0.0417,"y":0.0407},{"p":"g19","k":8,"c":"bk","o":3,"x":-0.0405,"y":0.0428},{"p":"g19","k":8,"c":"bk","o":4,"x":-0.0378,"y":0.0428},{"p":"g19","k":8,"c":"bk","o":5,"x":-0.0363,"y":0.0407},{"p":"g19","k":8,"c":"bk","o":6,"x":-0.0376,"y":0.038},
{"p":"g19","k":9,"c":"bl","o":1,"x":-0.0307,"y":-0.0109},{"p":"g19","k":9,"c":"bl","o":2,"x":-0.0343,"y":-0.0107},{"p":"g19","k":9,"c":"bl","o":3,"x":-0.0365,"y":-0.0129},{"p":"g19","k":9,"c":"bl","o":4,"x":-0.0352,"y":-0.0149},{"p":"g19","k":9,"c":"bl","o":5,"x":-0.0326,"y":-0.0149},{"p":"g19","k":9,"c":"bl","o":6,"x":-0.0311,"y":-0.0129},{"p":"g19","k":9,"c":"bl","o":7,"x":-0.0307,"y":-0.0109}
]
},
"columns":3,
"align":"none",
"bounds":"flush",
"spacing":{"row":80,"column":99},
"concat":[
{"width":288,"height":155,"title":"2014 BNP",
"encoding":{"x":{"field":"x","type":"quantitative","title":null,"scale":{"domain":[-0.04,0.04],"nice":false,"zero":false},"axis":{"values":[-0.04,-0.03,-0.02,-0.01,0,0.01,0.02,0.03,0.04],"gridColor":{"condition":{"test":"datum.value==0","value":"#a6a6a6"},"value":"#d9d9d9"}}},
"y":{"field":"y","type":"quantitative","title":null,"scale":{"domain":[-0.015,0.015],"nice":false,"zero":false},"axis":{"values":[-0.015,-0.01,-0.005,0,0.005,0.01,0.015],"gridColor":{"condition":{"test":"datum.value==0","value":"#a6a6a6"},"value":"#d9d9d9"}}}},
"layer":[
{"data":{"name":"bow"},"transform":[{"filter":"datum.p=='b14'"}],"mark":{"type":"line","strokeWidth":2},"encoding":{"color":{"field":"c","type":"nominal","legend":null,"scale":{"domain":["g","lb","db","so","mg","or","cy","lg","dg","bl","bk","gn"],"range":["#2f7430","#1fa2d6","#235f7e","#000000","#c94fc9","#c4612d","#3fb3dc","#72b83c","#2f6f2f","#3b6585","#3a3a3a","#4f8a4f"]}},"order":{"field":"o","type":"quantitative"}}},
{"data":{"name":"mk"},"transform":[{"filter":"datum.p=='b14'"}],"mark":{"type":"point","filled":true,"strokeWidth":1,"opacity":1},"encoding":{"shape":{"field":"m","type":"nominal","legend":null,"scale":{"domain":["dot","red","grn","lgr","tri","dia","bred","btri","bdia"],"range":["circle","circle","circle","circle","triangle-up","diamond","circle","triangle-up","diamond"]}},"fill":{"field":"m","type":"nominal","legend":null,"scale":{"domain":["dot","red","grn","lgr","tri","dia","bred","btri","bdia"],"range":["#000000","#ff0000","#1fae4b","#8fd46a","#ffffff","#ffffff","#ff0000","#ffffff","#4ca32f"]}},"stroke":{"field":"m","type":"nominal","legend":null,"scale":{"domain":["dot","red","grn","lgr","tri","dia","bred","btri","bdia"],"range":["#8e3a8e","#7f7f7f","#4f7f4f","#6f9f5f","#235f7e","#7aa6c2","#6b1a1a","#222222","#2f5f2f"]}},"size":{"field":"m","type":"nominal","legend":null,"scale":{"type":"ordinal","domain":["dot","red","grn","lgr","tri","dia","bred","btri","bdia"],"range":[42,140,140,140,190,130,120,170,90]}}}}
]},
{"width":290,"height":155,"title":"2014 SG",
"encoding":{"x":{"field":"x","type":"quantitative","title":null,"scale":{"domain":[-0.2,0.2],"nice":false,"zero":false},"axis":{"values":[-0.2,-0.15,-0.1,-0.05,0,0.05,0.1,0.15,0.2],"gridColor":{"condition":{"test":"datum.value==0","value":"#a6a6a6"},"value":"#d9d9d9"}}},
"y":{"field":"y","type":"quantitative","title":null,"scale":{"domain":[-0.1,0.1],"nice":false,"zero":false},"axis":{"values":[-0.1,-0.08,-0.06,-0.04,-0.02,0,0.02,0.04,0.06,0.08,0.1],"gridColor":{"condition":{"test":"datum.value==0","value":"#a6a6a6"},"value":"#d9d9d9"}}}},
"layer":[
{"data":{"name":"bow"},"transform":[{"filter":"datum.p=='s14'"}],"mark":{"type":"line","strokeWidth":2},"encoding":{"color":{"field":"c","type":"nominal","legend":null,"scale":{"domain":["g","lb","db","so","mg","or","cy","lg","dg","bl","bk","gn"],"range":["#2f7430","#1fa2d6","#235f7e","#000000","#c94fc9","#c4612d","#3fb3dc","#72b83c","#2f6f2f","#3b6585","#3a3a3a","#4f8a4f"]}},"order":{"field":"o","type":"quantitative"}}},
{"data":{"name":"mk"},"transform":[{"filter":"datum.p=='s14'"}],"mark":{"type":"point","filled":true,"strokeWidth":1,"opacity":1},"encoding":{"shape":{"field":"m","type":"nominal","legend":null,"scale":{"domain":["dot","red","grn","lgr","tri","dia","bred","btri","bdia"],"range":["circle","circle","circle","circle","triangle-up","diamond","circle","triangle-up","diamond"]}},"fill":{"field":"m","type":"nominal","legend":null,"scale":{"domain":["dot","red","grn","lgr","tri","dia","bred","btri","bdia"],"range":["#000000","#ff0000","#1fae4b","#8fd46a","#ffffff","#ffffff","#ff0000","#ffffff","#4ca32f"]}},"stroke":{"field":"m","type":"nominal","legend":null,"scale":{"domain":["dot","red","grn","lgr","tri","dia","bred","btri","bdia"],"range":["#8e3a8e","#7f7f7f","#4f7f4f","#6f9f5f","#235f7e","#7aa6c2","#6b1a1a","#222222","#2f5f2f"]}},"size":{"field":"m","type":"nominal","legend":null,"scale":{"type":"ordinal","domain":["dot","red","grn","lgr","tri","dia","bred","btri","bdia"],"range":[42,140,140,140,190,130,120,170,90]}}}}
]},
{"width":261,"height":155,"title":"2014 BGRs",
"encoding":{"x":{"field":"x","type":"quantitative","title":null,"scale":{"domain":[-0.07,0],"nice":false,"zero":false},"axis":{"values":[-0.07,-0.06,-0.05,-0.04,-0.03,-0.02,-0.01,0],"gridColor":{"condition":{"test":"datum.value==0","value":"#a6a6a6"},"value":"#d9d9d9"}}},
"y":{"field":"y","type":"quantitative","title":null,"scale":{"domain":[-0.016,0.004],"nice":false,"zero":false},"axis":{"values":[-0.016,-0.014,-0.012,-0.01,-0.008,-0.006,-0.004,-0.002,0,0.002,0.004],"gridColor":{"condition":{"test":"datum.value==0","value":"#a6a6a6"},"value":"#d9d9d9"}}}},
"layer":[
{"data":{"name":"bg"},"transform":[{"filter":"datum.p=='g14' && datum.c!='so'"}],"mark":{"type":"line","strokeWidth":1.3,"strokeDash":[3,2]},"encoding":{"color":{"field":"c","type":"nominal","legend":null,"scale":{"domain":["g","lb","db","so","mg","or","cy","lg","dg","bl","bk","gn"],"range":["#2f7430","#1fa2d6","#235f7e","#000000","#c94fc9","#c4612d","#3fb3dc","#72b83c","#2f6f2f","#3b6585","#3a3a3a","#4f8a4f"]}},"detail":{"field":"k","type":"nominal"},"order":{"field":"o","type":"quantitative"}}},
{"data":{"name":"bg"},"transform":[{"filter":"datum.p=='g14' && datum.c=='so'"}],"mark":{"type":"line","strokeWidth":1.8},"encoding":{"color":{"field":"c","type":"nominal","legend":null,"scale":{"domain":["g","lb","db","so","mg","or","cy","lg","dg","bl","bk","gn"],"range":["#2f7430","#1fa2d6","#235f7e","#000000","#c94fc9","#c4612d","#3fb3dc","#72b83c","#2f6f2f","#3b6585","#3a3a3a","#4f8a4f"]}},"detail":{"field":"k","type":"nominal"},"order":{"field":"o","type":"quantitative"}}},
{"data":{"name":"mk"},"transform":[{"filter":"datum.p=='g14'"}],"mark":{"type":"point","filled":true,"strokeWidth":1,"opacity":1},"encoding":{"shape":{"field":"m","type":"nominal","legend":null,"scale":{"domain":["dot","red","grn","lgr","tri","dia","bred","btri","bdia"],"range":["circle","circle","circle","circle","triangle-up","diamond","circle","triangle-up","diamond"]}},"fill":{"field":"m","type":"nominal","legend":null,"scale":{"domain":["dot","red","grn","lgr","tri","dia","bred","btri","bdia"],"range":["#000000","#ff0000","#1fae4b","#8fd46a","#ffffff","#ffffff","#ff0000","#ffffff","#4ca32f"]}},"stroke":{"field":"m","type":"nominal","legend":null,"scale":{"domain":["dot","red","grn","lgr","tri","dia","bred","btri","bdia"],"range":["#8e3a8e","#7f7f7f","#4f7f4f","#6f9f5f","#235f7e","#7aa6c2","#6b1a1a","#222222","#2f5f2f"]}},"size":{"field":"m","type":"nominal","legend":null,"scale":{"type":"ordinal","domain":["dot","red","grn","lgr","tri","dia","bred","btri","bdia"],"range":[42,140,140,140,190,130,120,170,90]}}}}
]},
{"width":289,"height":160,"title":"2015 BNP",
"encoding":{"x":{"field":"x","type":"quantitative","title":null,"scale":{"domain":[-0.15,0.15],"nice":false,"zero":false},"axis":{"values":[-0.15,-0.1,-0.05,0,0.05,0.1,0.15],"gridColor":{"condition":{"test":"datum.value==0","value":"#a6a6a6"},"value":"#d9d9d9"}}},
"y":{"field":"y","type":"quantitative","title":null,"scale":{"domain":[-0.04,0.04],"nice":false,"zero":false},"axis":{"values":[-0.04,-0.03,-0.02,-0.01,0,0.01,0.02,0.03,0.04],"gridColor":{"condition":{"test":"datum.value==0","value":"#a6a6a6"},"value":"#d9d9d9"}}}},
"layer":[
{"data":{"name":"bow"},"transform":[{"filter":"datum.p=='b15'"}],"mark":{"type":"line","strokeWidth":2},"encoding":{"color":{"field":"c","type":"nominal","legend":null,"scale":{"domain":["g","lb","db","so","mg","or","cy","lg","dg","bl","bk","gn"],"range":["#2f7430","#1fa2d6","#235f7e","#000000","#c94fc9","#c4612d","#3fb3dc","#72b83c","#2f6f2f","#3b6585","#3a3a3a","#4f8a4f"]}},"order":{"field":"o","type":"quantitative"}}},
{"data":{"name":"mk"},"transform":[{"filter":"datum.p=='b15'"}],"mark":{"type":"point","filled":true,"strokeWidth":1,"opacity":1},"encoding":{"shape":{"field":"m","type":"nominal","legend":null,"scale":{"domain":["dot","red","grn","lgr","tri","dia","bred","btri","bdia"],"range":["circle","circle","circle","circle","triangle-up","diamond","circle","triangle-up","diamond"]}},"fill":{"field":"m","type":"nominal","legend":null,"scale":{"domain":["dot","red","grn","lgr","tri","dia","bred","btri","bdia"],"range":["#000000","#ff0000","#1fae4b","#8fd46a","#ffffff","#ffffff","#ff0000","#ffffff","#4ca32f"]}},"stroke":{"field":"m","type":"nominal","legend":null,"scale":{"domain":["dot","red","grn","lgr","tri","dia","bred","btri","bdia"],"range":["#8e3a8e","#7f7f7f","#4f7f4f","#6f9f5f","#235f7e","#7aa6c2","#6b1a1a","#222222","#2f5f2f"]}},"size":{"field":"m","type":"nominal","legend":null,"scale":{"type":"ordinal","domain":["dot","red","grn","lgr","tri","dia","bred","btri","bdia"],"range":[42,140,140,140,190,130,120,170,90]}}}}
]},
{"width":287,"height":160,"title":"2015 SG",
"encoding":{"x":{"field":"x","type":"quantitative","title":null,"scale":{"domain":[-0.1,0.1],"nice":false,"zero":false},"axis":{"values":[-0.1,-0.05,0,0.05,0.1],"gridColor":{"condition":{"test":"datum.value==0","value":"#a6a6a6"},"value":"#d9d9d9"}}},
"y":{"field":"y","type":"quantitative","title":null,"scale":{"domain":[-0.05,0.05],"nice":false,"zero":false},"axis":{"values":[-0.05,-0.04,-0.03,-0.02,-0.01,0,0.01,0.02,0.03,0.04,0.05],"gridColor":{"condition":{"test":"datum.value==0","value":"#a6a6a6"},"value":"#d9d9d9"}}}},
"layer":[
{"data":{"name":"bow"},"transform":[{"filter":"datum.p=='s15'"}],"mark":{"type":"line","strokeWidth":2},"encoding":{"color":{"field":"c","type":"nominal","legend":null,"scale":{"domain":["g","lb","db","so","mg","or","cy","lg","dg","bl","bk","gn"],"range":["#2f7430","#1fa2d6","#235f7e","#000000","#c94fc9","#c4612d","#3fb3dc","#72b83c","#2f6f2f","#3b6585","#3a3a3a","#4f8a4f"]}},"order":{"field":"o","type":"quantitative"}}},
{"data":{"name":"mk"},"transform":[{"filter":"datum.p=='s15'"}],"mark":{"type":"point","filled":true,"strokeWidth":1,"opacity":1},"encoding":{"shape":{"field":"m","type":"nominal","legend":null,"scale":{"domain":["dot","red","grn","lgr","tri","dia","bred","btri","bdia"],"range":["circle","circle","circle","circle","triangle-up","diamond","circle","triangle-up","diamond"]}},"fill":{"field":"m","type":"nominal","legend":null,"scale":{"domain":["dot","red","grn","lgr","tri","dia","bred","btri","bdia"],"range":["#000000","#ff0000","#1fae4b","#8fd46a","#ffffff","#ffffff","#ff0000","#ffffff","#4ca32f"]}},"stroke":{"field":"m","type":"nominal","legend":null,"scale":{"domain":["dot","red","grn","lgr","tri","dia","bred","btri","bdia"],"range":["#8e3a8e","#7f7f7f","#4f7f4f","#6f9f5f","#235f7e","#7aa6c2","#6b1a1a","#222222","#2f5f2f"]}},"size":{"field":"m","type":"nominal","legend":null,"scale":{"type":"ordinal","domain":["dot","red","grn","lgr","tri","dia","bred","btri","bdia"],"range":[42,140,140,140,190,130,120,170,90]}}}}
]},
{"width":257,"height":160,"title":"2015 BGRs",
"encoding":{"x":{"field":"x","type":"quantitative","title":null,"scale":{"domain":[-0.05,0.15],"nice":false,"zero":false},"axis":{"values":[-0.05,0,0.05,0.1,0.15],"gridColor":{"condition":{"test":"datum.value==0","value":"#a6a6a6"},"value":"#d9d9d9"}}},
"y":{"field":"y","type":"quantitative","title":null,"scale":{"domain":[-0.06,0],"nice":false,"zero":false},"axis":{"values":[-0.06,-0.05,-0.04,-0.03,-0.02,-0.01,0],"gridColor":{"condition":{"test":"datum.value==0","value":"#a6a6a6"},"value":"#d9d9d9"}}}},
"layer":[
{"data":{"name":"bg"},"transform":[{"filter":"datum.p=='g15' && datum.c!='so'"}],"mark":{"type":"line","strokeWidth":1.3,"strokeDash":[3,2]},"encoding":{"color":{"field":"c","type":"nominal","legend":null,"scale":{"domain":["g","lb","db","so","mg","or","cy","lg","dg","bl","bk","gn"],"range":["#2f7430","#1fa2d6","#235f7e","#000000","#c94fc9","#c4612d","#3fb3dc","#72b83c","#2f6f2f","#3b6585","#3a3a3a","#4f8a4f"]}},"detail":{"field":"k","type":"nominal"},"order":{"field":"o","type":"quantitative"}}},
{"data":{"name":"bg"},"transform":[{"filter":"datum.p=='g15' && datum.c=='so'"}],"mark":{"type":"line","strokeWidth":1.8},"encoding":{"color":{"field":"c","type":"nominal","legend":null,"scale":{"domain":["g","lb","db","so","mg","or","cy","lg","dg","bl","bk","gn"],"range":["#2f7430","#1fa2d6","#235f7e","#000000","#c94fc9","#c4612d","#3fb3dc","#72b83c","#2f6f2f","#3b6585","#3a3a3a","#4f8a4f"]}},"detail":{"field":"k","type":"nominal"},"order":{"field":"o","type":"quantitative"}}},
{"data":{"name":"mk"},"transform":[{"filter":"datum.p=='g15'"}],"mark":{"type":"point","filled":true,"strokeWidth":1,"opacity":1},"encoding":{"shape":{"field":"m","type":"nominal","legend":null,"scale":{"domain":["dot","red","grn","lgr","tri","dia","bred","btri","bdia"],"range":["circle","circle","circle","circle","triangle-up","diamond","circle","triangle-up","diamond"]}},"fill":{"field":"m","type":"nominal","legend":null,"scale":{"domain":["dot","red","grn","lgr","tri","dia","bred","btri","bdia"],"range":["#000000","#ff0000","#1fae4b","#8fd46a","#ffffff","#ffffff","#ff0000","#ffffff","#4ca32f"]}},"stroke":{"field":"m","type":"nominal","legend":null,"scale":{"domain":["dot","red","grn","lgr","tri","dia","bred","btri","bdia"],"range":["#8e3a8e","#7f7f7f","#4f7f4f","#6f9f5f","#235f7e","#7aa6c2","#6b1a1a","#222222","#2f5f2f"]}},"size":{"field":"m","type":"nominal","legend":null,"scale":{"type":"ordinal","domain":["dot","red","grn","lgr","tri","dia","bred","btri","bdia"],"range":[42,140,140,140,190,130,120,170,90]}}}}
]},
{"width":289,"height":154,"title":"2016 BNP",
"encoding":{"x":{"field":"x","type":"quantitative","title":null,"scale":{"domain":[-0.1,0.1],"nice":false,"zero":false},"axis":{"values":[-0.1,-0.05,0,0.05,0.1],"gridColor":{"condition":{"test":"datum.value==0","value":"#a6a6a6"},"value":"#d9d9d9"}}},
"y":{"field":"y","type":"quantitative","title":null,"scale":{"domain":[-0.003,0.003],"nice":false,"zero":false},"axis":{"values":[-0.003,-0.002,-0.001,0,0.001,0.002,0.003],"gridColor":{"condition":{"test":"datum.value==0","value":"#a6a6a6"},"value":"#d9d9d9"}}}},
"layer":[
{"data":{"name":"bow"},"transform":[{"filter":"datum.p=='b16'"}],"mark":{"type":"line","strokeWidth":2},"encoding":{"color":{"field":"c","type":"nominal","legend":null,"scale":{"domain":["g","lb","db","so","mg","or","cy","lg","dg","bl","bk","gn"],"range":["#2f7430","#1fa2d6","#235f7e","#000000","#c94fc9","#c4612d","#3fb3dc","#72b83c","#2f6f2f","#3b6585","#3a3a3a","#4f8a4f"]}},"order":{"field":"o","type":"quantitative"}}},
{"data":{"name":"mk"},"transform":[{"filter":"datum.p=='b16'"}],"mark":{"type":"point","filled":true,"strokeWidth":1,"opacity":1},"encoding":{"shape":{"field":"m","type":"nominal","legend":null,"scale":{"domain":["dot","red","grn","lgr","tri","dia","bred","btri","bdia"],"range":["circle","circle","circle","circle","triangle-up","diamond","circle","triangle-up","diamond"]}},"fill":{"field":"m","type":"nominal","legend":null,"scale":{"domain":["dot","red","grn","lgr","tri","dia","bred","btri","bdia"],"range":["#000000","#ff0000","#1fae4b","#8fd46a","#ffffff","#ffffff","#ff0000","#ffffff","#4ca32f"]}},"stroke":{"field":"m","type":"nominal","legend":null,"scale":{"domain":["dot","red","grn","lgr","tri","dia","bred","btri","bdia"],"range":["#8e3a8e","#7f7f7f","#4f7f4f","#6f9f5f","#235f7e","#7aa6c2","#6b1a1a","#222222","#2f5f2f"]}},"size":{"field":"m","type":"nominal","legend":null,"scale":{"type":"ordinal","domain":["dot","red","grn","lgr","tri","dia","bred","btri","bdia"],"range":[42,140,140,140,190,130,120,170,90]}}}}
]},
{"width":293,"height":154,"title":"2016 SG",
"encoding":{"x":{"field":"x","type":"quantitative","title":null,"scale":{"domain":[-0.2,0.2],"nice":false,"zero":false},"axis":{"values":[-0.2,-0.15,-0.1,-0.05,0,0.05,0.1,0.15,0.2],"gridColor":{"condition":{"test":"datum.value==0","value":"#a6a6a6"},"value":"#d9d9d9"}}},
"y":{"field":"y","type":"quantitative","title":null,"scale":{"domain":[-0.005,0.005],"nice":false,"zero":false},"axis":{"values":[-0.005,-0.004,-0.003,-0.002,-0.001,0,0.001,0.002,0.003,0.004,0.005],"gridColor":{"condition":{"test":"datum.value==0","value":"#a6a6a6"},"value":"#d9d9d9"}}}},
"layer":[
{"data":{"name":"bow"},"transform":[{"filter":"datum.p=='s16'"}],"mark":{"type":"line","strokeWidth":2},"encoding":{"color":{"field":"c","type":"nominal","legend":null,"scale":{"domain":["g","lb","db","so","mg","or","cy","lg","dg","bl","bk","gn"],"range":["#2f7430","#1fa2d6","#235f7e","#000000","#c94fc9","#c4612d","#3fb3dc","#72b83c","#2f6f2f","#3b6585","#3a3a3a","#4f8a4f"]}},"order":{"field":"o","type":"quantitative"}}},
{"data":{"name":"mk"},"transform":[{"filter":"datum.p=='s16'"}],"mark":{"type":"point","filled":true,"strokeWidth":1,"opacity":1},"encoding":{"shape":{"field":"m","type":"nominal","legend":null,"scale":{"domain":["dot","red","grn","lgr","tri","dia","bred","btri","bdia"],"range":["circle","circle","circle","circle","triangle-up","diamond","circle","triangle-up","diamond"]}},"fill":{"field":"m","type":"nominal","legend":null,"scale":{"domain":["dot","red","grn","lgr","tri","dia","bred","btri","bdia"],"range":["#000000","#ff0000","#1fae4b","#8fd46a","#ffffff","#ffffff","#ff0000","#ffffff","#4ca32f"]}},"stroke":{"field":"m","type":"nominal","legend":null,"scale":{"domain":["dot","red","grn","lgr","tri","dia","bred","btri","bdia"],"range":["#8e3a8e","#7f7f7f","#4f7f4f","#6f9f5f","#235f7e","#7aa6c2","#6b1a1a","#222222","#2f5f2f"]}},"size":{"field":"m","type":"nominal","legend":null,"scale":{"type":"ordinal","domain":["dot","red","grn","lgr","tri","dia","bred","btri","bdia"],"range":[42,140,140,140,190,130,120,170,90]}}}}
]},
{"width":250,"height":154,"title":"2016 BGRs",
"encoding":{"x":{"field":"x","type":"quantitative","title":null,"scale":{"domain":[-0.2,0.2],"nice":false,"zero":false},"axis":{"values":[-0.2,-0.1,0,0.1,0.2],"gridColor":{"condition":{"test":"datum.value==0","value":"#a6a6a6"},"value":"#d9d9d9"}}},
"y":{"field":"y","type":"quantitative","title":null,"scale":{"domain":[-0.004,0.003],"nice":false,"zero":false},"axis":{"values":[-0.004,-0.003,-0.002,-0.001,0,0.001,0.002,0.003],"gridColor":{"condition":{"test":"datum.value==0","value":"#a6a6a6"},"value":"#d9d9d9"}}}},
"layer":[
{"data":{"name":"bg"},"transform":[{"filter":"datum.p=='g16' && datum.c!='so'"}],"mark":{"type":"line","strokeWidth":1.3,"strokeDash":[3,2]},"encoding":{"color":{"field":"c","type":"nominal","legend":null,"scale":{"domain":["g","lb","db","so","mg","or","cy","lg","dg","bl","bk","gn"],"range":["#2f7430","#1fa2d6","#235f7e","#000000","#c94fc9","#c4612d","#3fb3dc","#72b83c","#2f6f2f","#3b6585","#3a3a3a","#4f8a4f"]}},"detail":{"field":"k","type":"nominal"},"order":{"field":"o","type":"quantitative"}}},
{"data":{"name":"bg"},"transform":[{"filter":"datum.p=='g16' && datum.c=='so'"}],"mark":{"type":"line","strokeWidth":1.4},"encoding":{"color":{"field":"c","type":"nominal","legend":null,"scale":{"domain":["g","lb","db","so","mg","or","cy","lg","dg","bl","bk","gn"],"range":["#2f7430","#1fa2d6","#235f7e","#000000","#c94fc9","#c4612d","#3fb3dc","#72b83c","#2f6f2f","#3b6585","#3a3a3a","#4f8a4f"]}},"detail":{"field":"k","type":"nominal"},"order":{"field":"o","type":"quantitative"}}},
{"data":{"name":"mk"},"transform":[{"filter":"datum.p=='g16'"}],"mark":{"type":"point","filled":true,"strokeWidth":1,"opacity":1},"encoding":{"shape":{"field":"m","type":"nominal","legend":null,"scale":{"domain":["dot","red","grn","lgr","tri","dia","bred","btri","bdia"],"range":["circle","circle","circle","circle","triangle-up","diamond","circle","triangle-up","diamond"]}},"fill":{"field":"m","type":"nominal","legend":null,"scale":{"domain":["dot","red","grn","lgr","tri","dia","bred","btri","bdia"],"range":["#000000","#ff0000","#1fae4b","#8fd46a","#ffffff","#ffffff","#ff0000","#ffffff","#4ca32f"]}},"stroke":{"field":"m","type":"nominal","legend":null,"scale":{"domain":["dot","red","grn","lgr","tri","dia","bred","btri","bdia"],"range":["#8e3a8e","#7f7f7f","#4f7f4f","#6f9f5f","#235f7e","#7aa6c2","#6b1a1a","#222222","#2f5f2f"]}},"size":{"field":"m","type":"nominal","legend":null,"scale":{"type":"ordinal","domain":["dot","red","grn","lgr","tri","dia","bred","btri","bdia"],"range":[42,140,140,140,190,130,120,170,90]}}}}
]},
{"width":292,"height":172,"title":"2017 BNP",
"encoding":{"x":{"field":"x","type":"quantitative","title":null,"scale":{"domain":[-0.4,0.4],"nice":false,"zero":false},"axis":{"values":[-0.4,-0.3,-0.2,-0.1,0,0.1,0.2,0.3,0.4],"gridColor":{"condition":{"test":"datum.value==0","value":"#a6a6a6"},"value":"#d9d9d9"}}},
"y":{"field":"y","type":"quantitative","title":null,"scale":{"domain":[-0.02,0.02],"nice":false,"zero":false},"axis":{"values":[-0.02,-0.015,-0.01,-0.005,0,0.005,0.01,0.015,0.02],"gridColor":{"condition":{"test":"datum.value==0","value":"#a6a6a6"},"value":"#d9d9d9"}}}},
"layer":[
{"data":{"name":"bow"},"transform":[{"filter":"datum.p=='b17'"}],"mark":{"type":"line","strokeWidth":2},"encoding":{"color":{"field":"c","type":"nominal","legend":null,"scale":{"domain":["g","lb","db","so","mg","or","cy","lg","dg","bl","bk","gn"],"range":["#2f7430","#1fa2d6","#235f7e","#000000","#c94fc9","#c4612d","#3fb3dc","#72b83c","#2f6f2f","#3b6585","#3a3a3a","#4f8a4f"]}},"order":{"field":"o","type":"quantitative"}}},
{"data":{"name":"mk"},"transform":[{"filter":"datum.p=='b17'"}],"mark":{"type":"point","filled":true,"strokeWidth":1,"opacity":1},"encoding":{"shape":{"field":"m","type":"nominal","legend":null,"scale":{"domain":["dot","red","grn","lgr","tri","dia","bred","btri","bdia"],"range":["circle","circle","circle","circle","triangle-up","diamond","circle","triangle-up","diamond"]}},"fill":{"field":"m","type":"nominal","legend":null,"scale":{"domain":["dot","red","grn","lgr","tri","dia","bred","btri","bdia"],"range":["#000000","#ff0000","#1fae4b","#8fd46a","#ffffff","#ffffff","#ff0000","#ffffff","#4ca32f"]}},"stroke":{"field":"m","type":"nominal","legend":null,"scale":{"domain":["dot","red","grn","lgr","tri","dia","bred","btri","bdia"],"range":["#8e3a8e","#7f7f7f","#4f7f4f","#6f9f5f","#235f7e","#7aa6c2","#6b1a1a","#222222","#2f5f2f"]}},"size":{"field":"m","type":"nominal","legend":null,"scale":{"type":"ordinal","domain":["dot","red","grn","lgr","tri","dia","bred","btri","bdia"],"range":[42,140,140,140,190,130,120,170,90]}}}}
]},
{"width":287,"height":172,"title":"2017 SG",
"encoding":{"x":{"field":"x","type":"quantitative","title":null,"scale":{"domain":[-0.3,0.3],"nice":false,"zero":false},"axis":{"values":[-0.3,-0.2,-0.1,0,0.1,0.2,0.3],"gridColor":{"condition":{"test":"datum.value==0","value":"#a6a6a6"},"value":"#d9d9d9"}}},
"y":{"field":"y","type":"quantitative","title":null,"scale":{"domain":[-0.015,0.015],"nice":false,"zero":false},"axis":{"values":[-0.015,-0.01,-0.005,0,0.005,0.01,0.015],"gridColor":{"condition":{"test":"datum.value==0","value":"#a6a6a6"},"value":"#d9d9d9"}}}},
"layer":[
{"data":{"name":"bow"},"transform":[{"filter":"datum.p=='s17'"}],"mark":{"type":"line","strokeWidth":2},"encoding":{"color":{"field":"c","type":"nominal","legend":null,"scale":{"domain":["g","lb","db","so","mg","or","cy","lg","dg","bl","bk","gn"],"range":["#2f7430","#1fa2d6","#235f7e","#000000","#c94fc9","#c4612d","#3fb3dc","#72b83c","#2f6f2f","#3b6585","#3a3a3a","#4f8a4f"]}},"order":{"field":"o","type":"quantitative"}}},
{"data":{"name":"mk"},"transform":[{"filter":"datum.p=='s17'"}],"mark":{"type":"point","filled":true,"strokeWidth":1,"opacity":1},"encoding":{"shape":{"field":"m","type":"nominal","legend":null,"scale":{"domain":["dot","red","grn","lgr","tri","dia","bred","btri","bdia"],"range":["circle","circle","circle","circle","triangle-up","diamond","circle","triangle-up","diamond"]}},"fill":{"field":"m","type":"nominal","legend":null,"scale":{"domain":["dot","red","grn","lgr","tri","dia","bred","btri","bdia"],"range":["#000000","#ff0000","#1fae4b","#8fd46a","#ffffff","#ffffff","#ff0000","#ffffff","#4ca32f"]}},"stroke":{"field":"m","type":"nominal","legend":null,"scale":{"domain":["dot","red","grn","lgr","tri","dia","bred","btri","bdia"],"range":["#8e3a8e","#7f7f7f","#4f7f4f","#6f9f5f","#235f7e","#7aa6c2","#6b1a1a","#222222","#2f5f2f"]}},"size":{"field":"m","type":"nominal","legend":null,"scale":{"type":"ordinal","domain":["dot","red","grn","lgr","tri","dia","bred","btri","bdia"],"range":[42,140,140,140,190,130,120,170,90]}}}}
]},
{"width":268,"height":172,"title":"2017 BGRs",
"encoding":{"x":{"field":"x","type":"quantitative","title":null,"scale":{"domain":[0,0.3],"nice":false,"zero":false},"axis":{"values":[0,0.1,0.2,0.3],"gridColor":{"condition":{"test":"datum.value==0","value":"#a6a6a6"},"value":"#d9d9d9"}}},
"y":{"field":"y","type":"quantitative","title":null,"scale":{"domain":[0,0.025],"nice":false,"zero":false},"axis":{"values":[0,0.005,0.01,0.015,0.02,0.025],"gridColor":{"condition":{"test":"datum.value==0","value":"#a6a6a6"},"value":"#d9d9d9"}}}},
"layer":[
{"data":{"name":"bg"},"transform":[{"filter":"datum.p=='g17' && datum.c!='so'"}],"mark":{"type":"line","strokeWidth":1.3,"strokeDash":[3,2]},"encoding":{"color":{"field":"c","type":"nominal","legend":null,"scale":{"domain":["g","lb","db","so","mg","or","cy","lg","dg","bl","bk","gn"],"range":["#2f7430","#1fa2d6","#235f7e","#000000","#c94fc9","#c4612d","#3fb3dc","#72b83c","#2f6f2f","#3b6585","#3a3a3a","#4f8a4f"]}},"detail":{"field":"k","type":"nominal"},"order":{"field":"o","type":"quantitative"}}},
{"data":{"name":"bg"},"transform":[{"filter":"datum.p=='g17' && datum.c=='so'"}],"mark":{"type":"line","strokeWidth":1.6},"encoding":{"color":{"field":"c","type":"nominal","legend":null,"scale":{"domain":["g","lb","db","so","mg","or","cy","lg","dg","bl","bk","gn"],"range":["#2f7430","#1fa2d6","#235f7e","#000000","#c94fc9","#c4612d","#3fb3dc","#72b83c","#2f6f2f","#3b6585","#3a3a3a","#4f8a4f"]}},"detail":{"field":"k","type":"nominal"},"order":{"field":"o","type":"quantitative"}}},
{"data":{"name":"mk"},"transform":[{"filter":"datum.p=='g17'"}],"mark":{"type":"point","filled":true,"strokeWidth":1,"opacity":1},"encoding":{"shape":{"field":"m","type":"nominal","legend":null,"scale":{"domain":["dot","red","grn","lgr","tri","dia","bred","btri","bdia"],"range":["circle","circle","circle","circle","triangle-up","diamond","circle","triangle-up","diamond"]}},"fill":{"field":"m","type":"nominal","legend":null,"scale":{"domain":["dot","red","grn","lgr","tri","dia","bred","btri","bdia"],"range":["#000000","#ff0000","#1fae4b","#8fd46a","#ffffff","#ffffff","#ff0000","#ffffff","#4ca32f"]}},"stroke":{"field":"m","type":"nominal","legend":null,"scale":{"domain":["dot","red","grn","lgr","tri","dia","bred","btri","bdia"],"range":["#8e3a8e","#7f7f7f","#4f7f4f","#6f9f5f","#235f7e","#7aa6c2","#6b1a1a","#222222","#2f5f2f"]}},"size":{"field":"m","type":"nominal","legend":null,"scale":{"type":"ordinal","domain":["dot","red","grn","lgr","tri","dia","bred","btri","bdia"],"range":[42,140,140,140,190,130,120,170,90]}}}}
]},
{"width":290,"height":171,"title":"2018 BNP",
"encoding":{"x":{"field":"x","type":"quantitative","title":null,"scale":{"domain":[-0.2,0.2],"nice":false,"zero":false},"axis":{"values":[-0.2,-0.15,-0.1,-0.05,0,0.05,0.1,0.15,0.2],"gridColor":{"condition":{"test":"datum.value==0","value":"#a6a6a6"},"value":"#d9d9d9"}}},
"y":{"field":"y","type":"quantitative","title":null,"scale":{"domain":[-0.015,0.015],"nice":false,"zero":false},"axis":{"values":[-0.015,-0.01,-0.005,0,0.005,0.01,0.015],"gridColor":{"condition":{"test":"datum.value==0","value":"#a6a6a6"},"value":"#d9d9d9"}}}},
"layer":[
{"data":{"name":"bow"},"transform":[{"filter":"datum.p=='b18'"}],"mark":{"type":"line","strokeWidth":2},"encoding":{"color":{"field":"c","type":"nominal","legend":null,"scale":{"domain":["g","lb","db","so","mg","or","cy","lg","dg","bl","bk","gn"],"range":["#2f7430","#1fa2d6","#235f7e","#000000","#c94fc9","#c4612d","#3fb3dc","#72b83c","#2f6f2f","#3b6585","#3a3a3a","#4f8a4f"]}},"order":{"field":"o","type":"quantitative"}}},
{"data":{"name":"mk"},"transform":[{"filter":"datum.p=='b18'"}],"mark":{"type":"point","filled":true,"strokeWidth":1,"opacity":1},"encoding":{"shape":{"field":"m","type":"nominal","legend":null,"scale":{"domain":["dot","red","grn","lgr","tri","dia","bred","btri","bdia"],"range":["circle","circle","circle","circle","triangle-up","diamond","circle","triangle-up","diamond"]}},"fill":{"field":"m","type":"nominal","legend":null,"scale":{"domain":["dot","red","grn","lgr","tri","dia","bred","btri","bdia"],"range":["#000000","#ff0000","#1fae4b","#8fd46a","#ffffff","#ffffff","#ff0000","#ffffff","#4ca32f"]}},"stroke":{"field":"m","type":"nominal","legend":null,"scale":{"domain":["dot","red","grn","lgr","tri","dia","bred","btri","bdia"],"range":["#8e3a8e","#7f7f7f","#4f7f4f","#6f9f5f","#235f7e","#7aa6c2","#6b1a1a","#222222","#2f5f2f"]}},"size":{"field":"m","type":"nominal","legend":null,"scale":{"type":"ordinal","domain":["dot","red","grn","lgr","tri","dia","bred","btri","bdia"],"range":[42,140,140,140,190,130,120,170,90]}}}}
]},
{"width":289,"height":171,"title":"2018 SG",
"encoding":{"x":{"field":"x","type":"quantitative","title":null,"scale":{"domain":[-0.2,0.2],"nice":false,"zero":false},"axis":{"values":[-0.2,-0.15,-0.1,-0.05,0,0.05,0.1,0.15,0.2],"gridColor":{"condition":{"test":"datum.value==0","value":"#a6a6a6"},"value":"#d9d9d9"}}},
"y":{"field":"y","type":"quantitative","title":null,"scale":{"domain":[-0.015,0.015],"nice":false,"zero":false},"axis":{"values":[-0.015,-0.01,-0.005,0,0.005,0.01,0.015],"gridColor":{"condition":{"test":"datum.value==0","value":"#a6a6a6"},"value":"#d9d9d9"}}}},
"layer":[
{"data":{"name":"bow"},"transform":[{"filter":"datum.p=='s18'"}],"mark":{"type":"line","strokeWidth":2},"encoding":{"color":{"field":"c","type":"nominal","legend":null,"scale":{"domain":["g","lb","db","so","mg","or","cy","lg","dg","bl","bk","gn"],"range":["#2f7430","#1fa2d6","#235f7e","#000000","#c94fc9","#c4612d","#3fb3dc","#72b83c","#2f6f2f","#3b6585","#3a3a3a","#4f8a4f"]}},"order":{"field":"o","type":"quantitative"}}},
{"data":{"name":"mk"},"transform":[{"filter":"datum.p=='s18'"}],"mark":{"type":"point","filled":true,"strokeWidth":1,"opacity":1},"encoding":{"shape":{"field":"m","type":"nominal","legend":null,"scale":{"domain":["dot","red","grn","lgr","tri","dia","bred","btri","bdia"],"range":["circle","circle","circle","circle","triangle-up","diamond","circle","triangle-up","diamond"]}},"fill":{"field":"m","type":"nominal","legend":null,"scale":{"domain":["dot","red","grn","lgr","tri","dia","bred","btri","bdia"],"range":["#000000","#ff0000","#1fae4b","#8fd46a","#ffffff","#ffffff","#ff0000","#ffffff","#4ca32f"]}},"stroke":{"field":"m","type":"nominal","legend":null,"scale":{"domain":["dot","red","grn","lgr","tri","dia","bred","btri","bdia"],"range":["#8e3a8e","#7f7f7f","#4f7f4f","#6f9f5f","#235f7e","#7aa6c2","#6b1a1a","#222222","#2f5f2f"]}},"size":{"field":"m","type":"nominal","legend":null,"scale":{"type":"ordinal","domain":["dot","red","grn","lgr","tri","dia","bred","btri","bdia"],"range":[42,140,140,140,190,130,120,170,90]}}}}
]},
{"width":257,"height":171,"title":"2018 BGRs",
"encoding":{"x":{"field":"x","type":"quantitative","title":null,"scale":{"domain":[-0.2,0.1],"nice":false,"zero":false},"axis":{"values":[-0.2,-0.15,-0.1,-0.05,0,0.05,0.1],"gridColor":{"condition":{"test":"datum.value==0","value":"#a6a6a6"},"value":"#d9d9d9"}}},
"y":{"field":"y","type":"quantitative","title":null,"scale":{"domain":[-0.01,0.02],"nice":false,"zero":false},"axis":{"values":[-0.01,-0.005,0,0.005,0.01,0.015,0.02],"gridColor":{"condition":{"test":"datum.value==0","value":"#a6a6a6"},"value":"#d9d9d9"}}}},
"layer":[
{"data":{"name":"bg"},"transform":[{"filter":"datum.p=='g18' && datum.c!='so'"}],"mark":{"type":"line","strokeWidth":1.3,"strokeDash":[3,2]},"encoding":{"color":{"field":"c","type":"nominal","legend":null,"scale":{"domain":["g","lb","db","so","mg","or","cy","lg","dg","bl","bk","gn"],"range":["#2f7430","#1fa2d6","#235f7e","#000000","#c94fc9","#c4612d","#3fb3dc","#72b83c","#2f6f2f","#3b6585","#3a3a3a","#4f8a4f"]}},"detail":{"field":"k","type":"nominal"},"order":{"field":"o","type":"quantitative"}}},
{"data":{"name":"bg"},"transform":[{"filter":"datum.p=='g18' && datum.c=='so'"}],"mark":{"type":"line","strokeWidth":1.8},"encoding":{"color":{"field":"c","type":"nominal","legend":null,"scale":{"domain":["g","lb","db","so","mg","or","cy","lg","dg","bl","bk","gn"],"range":["#2f7430","#1fa2d6","#235f7e","#000000","#c94fc9","#c4612d","#3fb3dc","#72b83c","#2f6f2f","#3b6585","#3a3a3a","#4f8a4f"]}},"detail":{"field":"k","type":"nominal"},"order":{"field":"o","type":"quantitative"}}},
{"data":{"name":"mk"},"transform":[{"filter":"datum.p=='g18'"}],"mark":{"type":"point","filled":true,"strokeWidth":1,"opacity":1},"encoding":{"shape":{"field":"m","type":"nominal","legend":null,"scale":{"domain":["dot","red","grn","lgr","tri","dia","bred","btri","bdia"],"range":["circle","circle","circle","circle","triangle-up","diamond","circle","triangle-up","diamond"]}},"fill":{"field":"m","type":"nominal","legend":null,"scale":{"domain":["dot","red","grn","lgr","tri","dia","bred","btri","bdia"],"range":["#000000","#ff0000","#1fae4b","#8fd46a","#ffffff","#ffffff","#ff0000","#ffffff","#4ca32f"]}},"stroke":{"field":"m","type":"nominal","legend":null,"scale":{"domain":["dot","red","grn","lgr","tri","dia","bred","btri","bdia"],"range":["#8e3a8e","#7f7f7f","#4f7f4f","#6f9f5f","#235f7e","#7aa6c2","#6b1a1a","#222222","#2f5f2f"]}},"size":{"field":"m","type":"nominal","legend":null,"scale":{"type":"ordinal","domain":["dot","red","grn","lgr","tri","dia","bred","btri","bdia"],"range":[42,140,140,140,190,130,120,170,90]}}}}
]},
{"width":288,"height":172,"title":"2019 BNP",
"encoding":{"x":{"field":"x","type":"quantitative","scale":{"domain":[-0.06,0.06],"nice":false,"zero":false},"axis":{"values":[-0.06,-0.04,-0.02,0,0.02,0.04,0.06],"gridColor":{"condition":{"test":"datum.value==0","value":"#a6a6a6"},"value":"#d9d9d9"},"title":"Figure 7BNp","titleFont":"Open Sans","titleFontSize":26,"titleFontWeight":"normal","titleColor":"#000000","titleX":132,"titleY":52,"titleBaseline":"middle","titleAlign":"center"}},
"y":{"field":"y","type":"quantitative","title":null,"scale":{"domain":[-0.025,0.025],"nice":false,"zero":false},"axis":{"values":[-0.025,-0.02,-0.015,-0.01,-0.005,0,0.005,0.01,0.015,0.02,0.025],"gridColor":{"condition":{"test":"datum.value==0","value":"#a6a6a6"},"value":"#d9d9d9"}}}},
"layer":[
{"data":{"name":"bow"},"transform":[{"filter":"datum.p=='b19'"}],"mark":{"type":"line","strokeWidth":2},"encoding":{"color":{"field":"c","type":"nominal","legend":null,"scale":{"domain":["g","lb","db","so","mg","or","cy","lg","dg","bl","bk","gn"],"range":["#2f7430","#1fa2d6","#235f7e","#000000","#c94fc9","#c4612d","#3fb3dc","#72b83c","#2f6f2f","#3b6585","#3a3a3a","#4f8a4f"]}},"order":{"field":"o","type":"quantitative"}}},
{"data":{"name":"mk"},"transform":[{"filter":"datum.p=='b19'"}],"mark":{"type":"point","filled":true,"strokeWidth":1,"opacity":1},"encoding":{"shape":{"field":"m","type":"nominal","legend":null,"scale":{"domain":["dot","red","grn","lgr","tri","dia","bred","btri","bdia"],"range":["circle","circle","circle","circle","triangle-up","diamond","circle","triangle-up","diamond"]}},"fill":{"field":"m","type":"nominal","legend":null,"scale":{"domain":["dot","red","grn","lgr","tri","dia","bred","btri","bdia"],"range":["#000000","#ff0000","#1fae4b","#8fd46a","#ffffff","#ffffff","#ff0000","#ffffff","#4ca32f"]}},"stroke":{"field":"m","type":"nominal","legend":null,"scale":{"domain":["dot","red","grn","lgr","tri","dia","bred","btri","bdia"],"range":["#8e3a8e","#7f7f7f","#4f7f4f","#6f9f5f","#235f7e","#7aa6c2","#6b1a1a","#222222","#2f5f2f"]}},"size":{"field":"m","type":"nominal","legend":null,"scale":{"type":"ordinal","domain":["dot","red","grn","lgr","tri","dia","bred","btri","bdia"],"range":[42,140,140,140,190,130,120,170,90]}}}}
]},
{"width":286,"height":172,"title":"2019 SG",
"encoding":{"x":{"field":"x","type":"quantitative","scale":{"domain":[-0.06,0.06],"nice":false,"zero":false},"axis":{"values":[-0.06,-0.04,-0.02,0,0.02,0.04,0.06],"gridColor":{"condition":{"test":"datum.value==0","value":"#a6a6a6"},"value":"#d9d9d9"},"title":"Figure 7SG","titleFont":"Open Sans","titleFontSize":26,"titleFontWeight":"normal","titleColor":"#000000","titleX":135,"titleY":52,"titleBaseline":"middle","titleAlign":"center"}},
"y":{"field":"y","type":"quantitative","title":null,"scale":{"domain":[-0.04,0.04],"nice":false,"zero":false},"axis":{"values":[-0.04,-0.03,-0.02,-0.01,0,0.01,0.02,0.03,0.04],"gridColor":{"condition":{"test":"datum.value==0","value":"#a6a6a6"},"value":"#d9d9d9"}}}},
"layer":[
{"data":{"name":"bow"},"transform":[{"filter":"datum.p=='s19'"}],"mark":{"type":"line","strokeWidth":2},"encoding":{"color":{"field":"c","type":"nominal","legend":null,"scale":{"domain":["g","lb","db","so","mg","or","cy","lg","dg","bl","bk","gn"],"range":["#2f7430","#1fa2d6","#235f7e","#000000","#c94fc9","#c4612d","#3fb3dc","#72b83c","#2f6f2f","#3b6585","#3a3a3a","#4f8a4f"]}},"order":{"field":"o","type":"quantitative"}}},
{"data":{"name":"mk"},"transform":[{"filter":"datum.p=='s19'"}],"mark":{"type":"point","filled":true,"strokeWidth":1,"opacity":1},"encoding":{"shape":{"field":"m","type":"nominal","legend":null,"scale":{"domain":["dot","red","grn","lgr","tri","dia","bred","btri","bdia"],"range":["circle","circle","circle","circle","triangle-up","diamond","circle","triangle-up","diamond"]}},"fill":{"field":"m","type":"nominal","legend":null,"scale":{"domain":["dot","red","grn","lgr","tri","dia","bred","btri","bdia"],"range":["#000000","#ff0000","#1fae4b","#8fd46a","#ffffff","#ffffff","#ff0000","#ffffff","#4ca32f"]}},"stroke":{"field":"m","type":"nominal","legend":null,"scale":{"domain":["dot","red","grn","lgr","tri","dia","bred","btri","bdia"],"range":["#8e3a8e","#7f7f7f","#4f7f4f","#6f9f5f","#235f7e","#7aa6c2","#6b1a1a","#222222","#2f5f2f"]}},"size":{"field":"m","type":"nominal","legend":null,"scale":{"type":"ordinal","domain":["dot","red","grn","lgr","tri","dia","bred","btri","bdia"],"range":[42,140,140,140,190,130,120,170,90]}}}}
]},
{"width":263,"height":172,"title":"2019 BGRs",
"encoding":{"x":{"field":"x","type":"quantitative","scale":{"domain":[-0.1,0],"nice":false,"zero":false},"axis":{"values":[-0.1,-0.08,-0.06,-0.04,-0.02,0],"gridColor":{"condition":{"test":"datum.value==0","value":"#a6a6a6"},"value":"#d9d9d9"},"title":"Figure BGRs","titleFont":"Open Sans","titleFontSize":26,"titleFontWeight":"normal","titleColor":"#000000","titleX":118,"titleY":52,"titleBaseline":"middle","titleAlign":"center"}},
"y":{"field":"y","type":"quantitative","title":null,"scale":{"domain":[-0.02,0.05],"nice":false,"zero":false},"axis":{"values":[-0.02,-0.01,0,0.01,0.02,0.03,0.04,0.05],"gridColor":{"condition":{"test":"datum.value==0","value":"#a6a6a6"},"value":"#d9d9d9"}}}},
"layer":[
{"data":{"name":"bg"},"transform":[{"filter":"datum.p=='g19' && datum.c!='so'"}],"mark":{"type":"line","strokeWidth":1.3,"strokeDash":[3,2]},"encoding":{"color":{"field":"c","type":"nominal","legend":null,"scale":{"domain":["g","lb","db","so","mg","or","cy","lg","dg","bl","bk","gn"],"range":["#2f7430","#1fa2d6","#235f7e","#000000","#c94fc9","#c4612d","#3fb3dc","#72b83c","#2f6f2f","#3b6585","#3a3a3a","#4f8a4f"]}},"detail":{"field":"k","type":"nominal"},"order":{"field":"o","type":"quantitative"}}},
{"data":{"name":"bg"},"transform":[{"filter":"datum.p=='g19' && datum.c=='so'"}],"mark":{"type":"line","strokeWidth":1.8},"encoding":{"color":{"field":"c","type":"nominal","legend":null,"scale":{"domain":["g","lb","db","so","mg","or","cy","lg","dg","bl","bk","gn"],"range":["#2f7430","#1fa2d6","#235f7e","#000000","#c94fc9","#c4612d","#3fb3dc","#72b83c","#2f6f2f","#3b6585","#3a3a3a","#4f8a4f"]}},"detail":{"field":"k","type":"nominal"},"order":{"field":"o","type":"quantitative"}}},
{"data":{"name":"mk"},"transform":[{"filter":"datum.p=='g19'"}],"mark":{"type":"point","filled":true,"strokeWidth":1,"opacity":1},"encoding":{"shape":{"field":"m","type":"nominal","legend":null,"scale":{"domain":["dot","red","grn","lgr","tri","dia","bred","btri","bdia"],"range":["circle","circle","circle","circle","triangle-up","diamond","circle","triangle-up","diamond"]}},"fill":{"field":"m","type":"nominal","legend":null,"scale":{"domain":["dot","red","grn","lgr","tri","dia","bred","btri","bdia"],"range":["#000000","#ff0000","#1fae4b","#8fd46a","#ffffff","#ffffff","#ff0000","#ffffff","#4ca32f"]}},"stroke":{"field":"m","type":"nominal","legend":null,"scale":{"domain":["dot","red","grn","lgr","tri","dia","bred","btri","bdia"],"range":["#8e3a8e","#7f7f7f","#4f7f4f","#6f9f5f","#235f7e","#7aa6c2","#6b1a1a","#222222","#2f5f2f"]}},"size":{"field":"m","type":"nominal","legend":null,"scale":{"type":"ordinal","domain":["dot","red","grn","lgr","tri","dia","bred","btri","bdia"],"range":[42,140,140,140,190,130,120,170,90]}}}}
]}
]
}
